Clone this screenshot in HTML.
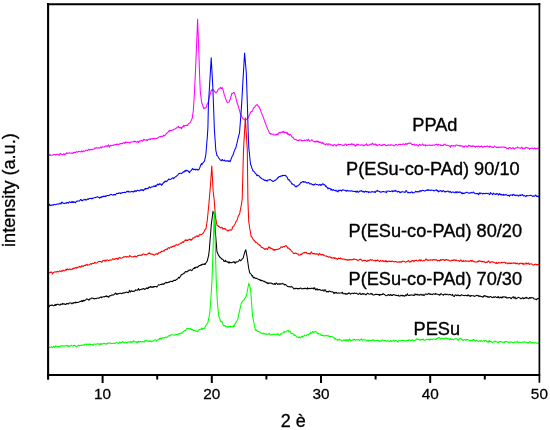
<!DOCTYPE html>
<html><head><meta charset="utf-8"><style>
html,body{margin:0;padding:0;background:#fff;overflow:hidden;}
svg{display:block;}
text{font-family:"Liberation Sans",Arial,sans-serif;fill:#000;}
</style></head><body>
<svg width="550" height="430" viewBox="0 0 550 430">
<rect width="550" height="430" fill="#fff"/>
<polyline fill="none" stroke="#ff00ff" stroke-width="1.05" stroke-linejoin="round" points="48.0,155.4 48.5,155.6 49.0,155.3 49.5,154.6 50.0,155.4 50.5,155.2 51.0,154.9 51.5,155.1 52.0,155.2 52.5,155.1 53.0,155.0 53.5,154.9 54.0,154.4 54.5,154.5 55.0,154.5 55.5,154.9 56.0,154.7 56.5,154.5 57.0,154.2 57.5,154.3 58.0,154.6 58.5,154.7 59.0,155.2 59.5,154.9 60.0,153.3 60.5,153.5 61.0,154.2 61.5,154.3 62.0,154.5 62.5,154.5 63.0,154.9 63.5,153.7 64.0,153.8 64.5,154.7 65.0,154.4 65.5,154.0 66.0,153.4 66.5,152.8 67.0,153.5 67.5,153.4 68.0,152.9 68.5,153.0 69.0,153.3 69.5,152.8 70.0,153.0 70.5,153.2 71.0,153.1 71.5,152.9 72.0,153.3 72.5,153.4 73.0,152.9 73.5,152.4 73.6,152.9 74.0,152.5 74.5,152.7 75.0,152.1 75.5,152.6 76.0,152.2 76.5,151.6 77.0,151.9 77.5,152.2 78.0,152.0 78.5,151.5 79.0,151.3 79.5,151.7 80.0,151.6 80.5,151.9 81.0,151.8 81.5,150.9 82.0,151.5 82.5,151.9 83.0,151.1 83.5,150.9 84.0,151.3 84.5,151.3 85.0,151.1 85.5,150.5 86.0,150.0 86.5,150.2 87.0,150.2 87.5,150.6 88.0,150.2 88.5,149.3 89.0,149.4 89.5,150.2 90.0,150.0 90.5,149.3 91.0,149.4 91.5,149.6 92.0,149.6 92.5,149.6 93.0,149.2 93.5,149.0 94.0,148.9 94.5,148.9 95.0,147.8 95.5,148.3 96.0,148.2 96.5,147.7 97.0,148.1 97.5,147.9 98.0,148.1 98.5,147.8 99.0,148.1 99.5,148.3 100.0,147.8 100.5,147.1 101.0,146.9 101.5,147.9 102.0,147.1 102.5,146.8 103.0,146.9 103.5,146.9 104.0,147.0 104.5,146.6 105.0,146.3 105.5,145.9 106.0,146.3 106.5,145.9 107.0,146.3 107.5,146.6 108.0,145.3 108.5,144.9 109.0,146.3 109.5,147.1 110.0,145.7 110.5,145.3 111.0,146.0 111.5,145.4 112.0,145.3 112.5,145.3 113.0,145.6 113.5,145.1 114.0,145.1 114.5,144.8 115.0,144.6 115.5,144.7 116.0,144.4 116.5,144.6 117.0,143.9 117.5,143.9 118.0,144.8 118.5,144.4 119.0,144.2 119.5,144.2 120.0,143.6 120.5,143.6 121.0,143.7 121.5,143.7 122.0,143.2 122.5,143.8 123.0,143.2 123.5,142.7 124.0,142.6 124.5,142.9 124.8,143.6 125.0,142.6 125.5,142.6 126.0,141.9 126.5,142.4 127.0,142.7 127.5,142.3 128.0,142.2 128.5,142.5 129.0,142.6 129.5,142.7 130.0,143.0 130.5,142.2 131.0,141.8 131.5,142.0 132.0,141.9 132.5,141.9 133.0,141.8 133.5,141.8 134.0,141.1 134.5,141.9 135.0,141.4 135.5,141.2 136.0,141.9 136.5,142.3 137.0,142.0 137.5,141.6 138.0,141.2 138.5,142.5 139.0,141.8 139.5,140.9 140.0,140.9 140.5,141.0 141.0,140.4 141.5,140.7 142.0,140.6 142.5,141.2 143.0,140.9 143.5,139.4 144.0,139.9 144.5,139.5 145.0,140.3 145.5,140.2 146.0,140.1 146.5,139.7 147.0,140.7 147.5,140.6 148.0,139.4 148.5,139.5 149.0,139.1 149.5,139.1 150.0,138.8 150.5,139.6 151.0,138.7 151.5,138.8 152.0,139.0 152.5,138.6 153.0,138.6 153.5,138.6 154.0,138.8 154.5,138.4 155.0,138.7 155.5,138.7 156.0,138.4 156.5,138.4 157.0,138.2 157.5,138.3 158.0,137.7 158.5,137.5 159.0,137.0 159.5,136.8 160.0,136.6 160.5,137.0 161.0,136.4 161.5,136.3 162.0,136.8 162.5,136.6 163.0,135.9 163.5,135.2 164.0,135.9 164.5,135.7 165.0,135.0 165.5,135.1 166.0,134.1 166.5,133.3 167.0,133.2 167.5,132.6 168.0,132.1 168.5,131.2 169.0,131.8 169.2,130.7 169.5,130.2 170.0,130.8 170.5,130.5 171.0,130.6 171.5,130.4 172.0,130.2 172.5,130.0 173.0,129.6 173.4,130.0 173.5,129.6 174.0,129.2 174.5,129.2 175.0,129.1 175.5,128.5 176.0,128.2 176.5,128.2 177.0,127.2 177.5,127.0 178.0,127.1 178.5,126.4 178.6,126.9 179.0,127.3 179.5,127.9 180.0,127.5 180.5,127.7 180.7,128.0 181.0,127.4 181.5,128.8 182.0,127.3 182.5,126.7 183.0,126.9 183.5,126.1 183.8,125.3 184.0,126.1 184.5,126.1 185.0,125.5 185.5,125.5 186.0,125.6 186.5,125.2 187.0,125.6 187.5,125.4 188.0,124.5 188.5,123.8 189.0,123.5 189.5,123.0 190.0,122.9 190.1,122.6 190.5,122.0 191.0,120.9 191.5,119.8 192.0,118.6 192.2,118.6 192.5,116.4 193.0,112.9 193.3,110.7 193.5,107.6 194.0,99.7 194.3,95.0 194.5,91.0 195.0,81.0 195.3,75.0 195.5,70.4 196.0,58.8 196.5,47.3 196.6,45.0 197.0,34.7 197.5,21.9 197.6,19.3 198.0,29.6 198.5,42.4 198.6,45.0 199.0,57.0 199.5,72.0 199.6,75.0 200.0,84.5 200.3,91.7 200.5,93.3 201.0,97.3 201.5,101.3 201.7,102.9 202.0,103.3 202.5,104.7 203.0,106.1 203.5,107.8 203.8,108.7 204.0,108.4 204.5,108.3 205.0,107.6 205.5,108.0 205.9,107.6 206.0,107.8 206.5,106.8 207.0,104.4 207.5,103.7 208.0,102.6 208.5,100.8 209.0,98.6 209.5,96.7 210.0,94.9 210.1,94.6 210.5,93.2 211.0,91.3 211.5,89.8 212.0,90.4 212.5,90.1 213.0,89.5 213.5,90.4 213.6,90.6 214.0,91.0 214.5,91.2 215.0,92.0 215.5,92.0 216.0,93.1 216.5,92.0 217.0,91.8 217.5,91.1 218.0,89.7 218.5,88.9 219.0,89.0 219.5,89.0 220.0,88.3 220.5,87.2 220.6,87.8 221.0,88.2 221.5,88.7 222.0,87.5 222.4,88.1 222.5,88.7 223.0,89.8 223.5,91.6 224.0,93.7 224.5,95.5 224.7,95.8 225.0,96.8 225.5,98.1 226.0,99.7 226.5,100.6 227.0,102.0 227.5,102.7 228.0,102.4 228.5,102.1 229.0,102.0 229.5,101.2 229.6,100.6 230.0,99.8 230.5,98.3 231.0,96.5 231.5,94.7 231.7,94.0 232.0,93.2 232.5,93.5 233.0,93.1 233.5,92.5 233.8,92.7 234.0,92.4 234.5,93.4 235.0,94.6 235.2,95.4 235.5,96.1 236.0,98.5 236.5,100.7 237.0,102.5 237.3,103.8 237.5,103.8 238.0,105.1 238.5,107.4 239.0,108.8 239.5,110.5 240.0,112.1 240.1,113.0 240.5,114.1 241.0,114.6 241.5,116.0 242.0,117.0 242.5,117.9 242.8,118.4 243.0,118.4 243.5,119.0 244.0,119.2 244.5,119.2 245.0,119.9 245.5,119.9 245.6,120.1 246.0,119.9 246.5,119.6 247.0,118.7 247.5,118.7 248.0,117.7 248.4,116.9 248.5,116.5 249.0,115.9 249.5,114.9 250.0,113.5 250.5,112.6 251.0,111.9 251.5,111.2 251.9,111.3 252.0,111.5 252.5,110.5 253.0,109.4 253.5,108.2 254.0,107.5 254.5,107.4 254.6,107.6 255.0,106.8 255.5,105.8 256.0,105.4 256.5,105.0 257.0,104.6 257.5,105.2 258.0,105.9 258.5,106.8 259.0,106.7 259.5,107.5 260.0,109.1 260.5,110.0 261.0,111.7 261.5,112.9 262.0,113.9 262.3,114.9 262.5,115.4 263.0,116.6 263.5,117.9 264.0,119.4 264.5,120.9 265.0,121.9 265.5,123.5 265.8,123.9 266.0,124.9 266.5,126.4 267.0,127.4 267.5,128.6 268.0,129.8 268.5,130.6 269.0,131.8 269.3,132.8 269.5,133.2 270.0,133.4 270.5,134.1 271.0,133.5 271.5,134.1 272.0,134.4 272.5,134.1 272.8,133.9 273.0,133.9 273.5,134.6 274.0,135.1 274.5,135.0 275.0,135.0 275.5,134.8 276.0,135.0 276.3,134.3 276.5,134.8 277.0,134.5 277.5,133.9 278.0,134.7 278.5,133.2 279.0,132.7 279.5,132.6 280.0,133.1 280.4,132.2 280.5,132.7 281.0,132.7 281.5,132.4 282.0,131.7 282.5,131.8 283.0,132.5 283.5,131.5 283.9,131.3 284.0,131.9 284.5,132.6 285.0,132.6 285.5,132.6 286.0,132.2 286.5,133.3 287.0,133.2 287.4,132.6 287.5,133.9 288.0,134.5 288.5,133.7 289.0,134.4 289.5,135.2 290.0,134.5 290.5,134.5 291.0,135.2 291.5,136.0 291.6,136.4 292.0,137.1 292.5,137.2 293.0,137.0 293.5,138.2 294.0,139.1 294.5,139.2 295.0,139.4 295.5,139.4 295.8,139.7 296.0,139.2 296.5,139.9 297.0,140.2 297.5,140.6 298.0,140.5 298.5,140.0 298.8,140.5 299.0,140.8 299.5,139.8 300.0,140.0 300.5,139.9 301.0,139.7 301.5,140.7 302.0,141.1 302.5,140.8 303.0,140.5 303.5,140.4 304.0,140.4 304.5,140.0 305.0,140.5 305.5,140.6 306.0,140.4 306.5,139.8 307.0,139.9 307.2,140.0 307.5,140.7 308.0,140.2 308.5,139.3 309.0,140.2 309.5,141.2 310.0,140.9 310.5,140.9 311.0,140.6 311.5,139.8 312.0,139.8 312.5,140.2 313.0,141.0 313.5,141.4 314.0,141.7 314.5,141.6 314.7,141.9 315.0,141.4 315.5,141.5 316.0,142.1 316.5,141.4 317.0,140.9 317.5,141.7 318.0,142.1 318.5,141.2 319.0,142.2 319.5,142.5 320.0,142.1 320.5,142.1 321.0,142.7 321.5,142.8 322.0,143.6 322.1,143.2 322.5,142.5 323.0,142.9 323.5,143.6 324.0,144.3 324.5,143.9 325.0,144.1 325.5,144.8 326.0,144.3 326.5,144.1 327.0,143.7 327.5,144.2 328.0,145.1 328.5,143.9 329.0,144.2 329.5,143.8 330.0,144.4 330.5,144.9 331.0,144.6 331.5,145.0 332.0,145.1 332.5,145.3 333.0,145.9 333.3,145.6 333.5,145.1 334.0,144.7 334.5,144.5 335.0,144.9 335.5,144.9 336.0,146.1 336.5,145.8 337.0,144.8 337.5,144.8 338.0,145.2 338.5,144.0 339.0,144.5 339.5,145.0 340.0,144.4 340.5,144.4 341.0,144.7 341.5,145.1 342.0,145.0 342.5,145.2 343.0,145.3 343.5,145.3 344.0,145.6 344.5,145.0 345.0,144.3 345.5,144.1 346.0,144.2 346.3,144.8 346.5,145.4 347.0,145.2 347.5,144.7 348.0,144.3 348.5,144.4 349.0,144.5 349.5,144.4 350.0,144.1 350.5,144.5 351.0,144.8 351.5,143.7 352.0,144.2 352.5,144.0 353.0,144.7 353.5,144.5 354.0,144.1 354.5,145.2 355.0,146.1 355.5,145.6 356.0,145.8 356.5,145.0 357.0,144.1 357.5,145.0 358.0,144.6 358.5,144.2 359.0,145.0 359.5,145.0 360.0,144.9 360.5,145.3 361.0,144.9 361.5,145.2 362.0,144.8 362.5,145.2 363.0,144.9 363.5,145.8 364.0,145.5 364.5,145.5 365.0,144.7 365.5,144.8 366.0,145.1 366.5,143.8 367.0,144.5 367.5,145.4 368.0,145.3 368.5,145.3 369.0,144.9 369.5,145.1 370.0,144.5 370.5,144.2 371.0,144.0 371.5,144.3 371.8,144.5 372.0,144.2 372.5,143.1 373.0,143.7 373.5,144.4 374.0,144.8 374.5,144.4 375.0,144.1 375.5,143.9 376.0,145.2 376.5,144.6 377.0,145.6 377.5,145.7 378.0,145.1 378.5,144.7 379.0,144.8 379.5,144.4 380.0,144.9 380.5,145.0 381.0,145.3 381.5,145.6 382.0,145.7 382.5,144.9 383.0,145.3 383.5,144.6 384.0,144.5 384.5,144.5 385.0,144.7 385.5,145.4 386.0,145.6 386.5,145.8 387.0,145.4 387.5,145.2 388.0,145.0 388.5,144.8 389.0,145.3 389.5,145.2 390.0,144.9 390.5,145.2 391.0,144.6 391.5,145.0 392.0,145.0 392.5,144.9 393.0,144.9 393.5,145.8 394.0,145.8 394.5,145.8 395.0,145.3 395.5,144.5 396.0,144.6 396.5,144.5 397.0,145.1 397.5,145.4 398.0,145.1 398.5,144.6 399.0,144.5 399.5,144.6 400.0,144.1 400.5,144.7 401.0,144.7 401.5,144.4 402.0,144.3 402.5,144.4 403.0,143.9 403.5,143.9 404.0,144.5 404.5,144.4 405.0,144.7 405.5,143.7 406.0,143.4 406.5,144.3 407.0,144.4 407.5,143.6 408.0,143.3 408.5,143.5 409.0,143.0 409.5,143.3 410.0,142.9 410.5,143.4 411.0,143.3 411.5,144.1 412.0,144.8 412.5,144.4 413.0,144.8 413.5,144.3 414.0,144.3 414.5,144.3 415.0,145.1 415.5,145.0 416.0,145.4 416.5,144.6 417.0,144.9 417.5,145.2 418.0,145.9 418.5,146.0 419.0,144.9 419.5,144.5 420.0,144.5 420.5,145.6 421.0,145.2 421.5,144.9 422.0,144.8 422.5,143.9 423.0,144.2 423.5,145.4 424.0,145.4 424.5,145.1 425.0,144.8 425.4,145.6 425.5,146.0 426.0,145.0 426.5,145.2 427.0,145.2 427.5,145.4 428.0,145.3 428.5,145.2 429.0,145.0 429.5,145.2 430.0,145.0 430.5,145.2 431.0,145.4 431.5,145.5 432.0,145.1 432.5,145.1 433.0,145.5 433.5,145.0 434.0,145.0 434.5,145.3 435.0,145.0 435.5,144.8 436.0,144.6 436.5,144.1 437.0,144.7 437.5,145.2 438.0,145.0 438.2,144.2 438.5,144.8 439.0,144.6 439.5,144.9 440.0,145.1 440.5,144.7 441.0,145.7 441.5,145.3 442.0,145.4 442.5,145.5 443.0,145.7 443.5,145.3 444.0,144.3 444.5,144.5 445.0,144.0 445.5,144.5 446.0,145.3 446.5,145.7 447.0,145.6 447.5,145.1 448.0,145.4 448.5,145.4 449.0,146.0 449.5,146.2 450.0,145.9 450.5,147.2 451.0,145.8 451.5,145.4 452.0,145.8 452.5,146.0 453.0,145.9 453.5,145.5 454.0,146.1 454.5,145.8 455.0,146.2 455.5,146.0 456.0,145.0 456.5,144.9 457.0,145.0 457.5,145.5 458.0,145.5 458.5,145.6 459.0,145.3 459.5,145.8 460.0,146.3 460.5,145.4 461.0,145.7 461.5,146.0 462.0,145.9 462.5,146.0 463.0,146.9 463.5,146.8 463.6,146.4 464.0,146.0 464.5,146.9 465.0,146.3 465.5,145.8 466.0,145.9 466.5,146.2 467.0,147.1 467.5,146.4 468.0,146.1 468.5,145.3 469.0,146.1 469.5,145.7 470.0,145.6 470.5,146.1 471.0,145.8 471.5,146.6 472.0,146.7 472.5,145.7 473.0,146.1 473.5,145.8 474.0,146.4 474.5,146.7 475.0,146.2 475.5,147.2 476.0,146.5 476.5,146.0 477.0,146.5 477.5,146.7 478.0,146.0 478.5,146.4 479.0,146.2 479.5,147.0 480.0,146.8 480.5,146.4 481.0,146.8 481.5,146.0 482.0,146.5 482.5,147.3 483.0,146.7 483.5,147.1 484.0,146.7 484.5,146.3 485.0,146.5 485.5,146.7 486.0,146.5 486.5,146.1 487.0,146.2 487.5,146.1 488.0,146.8 488.5,147.0 489.0,147.0 489.1,146.0 489.5,146.9 490.0,146.7 490.5,146.2 491.0,146.7 491.5,147.2 492.0,147.1 492.5,147.3 493.0,147.5 493.5,147.5 494.0,146.8 494.5,146.0 495.0,146.5 495.5,147.0 496.0,146.9 496.5,147.4 497.0,147.5 497.5,147.3 498.0,147.8 498.5,147.0 499.0,147.5 499.5,147.1 500.0,147.1 500.5,147.4 501.0,147.1 501.5,147.3 502.0,146.9 502.5,147.0 503.0,146.9 503.5,147.2 504.0,147.1 504.5,147.1 505.0,147.6 505.5,147.2 506.0,147.5 506.5,148.3 507.0,148.6 507.5,148.5 508.0,148.4 508.5,148.9 509.0,147.6 509.5,147.5 510.0,147.5 510.5,148.1 511.0,148.1 511.5,148.5 512.0,148.5 512.5,147.9 513.0,147.6 513.5,147.7 514.0,149.0 514.5,148.9 515.0,148.5 515.5,148.1 516.0,147.9 516.5,147.9 517.0,147.7 517.5,147.0 518.0,147.7 518.5,147.8 519.0,148.1 519.5,148.0 520.0,148.3 520.5,148.2 521.0,148.1 521.5,147.0 522.0,147.6 522.5,148.8 523.0,148.0 523.5,148.3 524.0,148.7 524.5,148.2 525.0,148.6 525.5,147.8 526.0,147.3 526.5,147.4 527.0,147.5 527.5,148.1 528.0,148.1 528.5,148.3 529.0,148.1 529.5,149.2 530.0,148.5 530.5,148.4 531.0,148.5 531.5,148.2 532.0,147.9 532.5,148.3 533.0,148.6 533.5,148.6 534.0,148.6 534.5,147.9 535.0,147.9 535.5,148.9 536.0,148.3 536.5,148.6 537.0,148.9 537.5,149.0 538.0,148.0 538.5,148.2 539.0,148.3"/>
<polyline fill="none" stroke="#0000ff" stroke-width="1.05" stroke-linejoin="round" points="48.0,205.3 48.5,204.9 49.0,204.7 49.5,204.2 50.0,205.8 50.5,205.6 51.0,205.0 51.5,205.4 52.0,205.1 52.5,204.9 53.0,205.3 53.5,204.8 54.0,204.5 54.5,204.3 55.0,204.7 55.5,204.7 56.0,204.7 56.5,204.2 57.0,204.2 57.5,203.8 58.0,204.2 58.5,204.0 59.0,204.0 59.5,203.8 60.0,203.1 60.5,203.7 61.0,204.0 61.5,202.5 62.0,202.1 62.5,202.5 63.0,203.3 63.5,203.3 64.0,203.6 64.5,203.5 65.0,203.2 65.5,203.1 66.0,203.1 66.5,203.2 67.0,202.4 67.5,202.5 68.0,202.8 68.5,203.2 69.0,202.1 69.5,201.8 70.0,202.0 70.5,202.5 71.0,202.2 71.5,202.4 72.0,201.5 72.5,202.5 73.0,202.4 73.5,201.6 73.6,202.0 74.0,202.4 74.5,202.0 75.0,202.3 75.5,202.8 76.0,201.9 76.5,201.3 77.0,201.1 77.5,201.3 78.0,201.1 78.5,201.0 79.0,201.0 79.5,201.1 80.0,200.2 80.5,199.5 81.0,199.4 81.5,200.6 82.0,200.5 82.5,200.7 83.0,200.0 83.5,199.7 84.0,200.0 84.5,199.7 85.0,199.2 85.5,199.4 86.0,200.3 86.5,199.8 87.0,199.6 87.5,199.1 88.0,198.8 88.5,199.4 89.0,198.8 89.5,198.4 90.0,198.4 90.5,198.3 91.0,198.6 91.5,198.8 92.0,198.2 92.5,198.8 93.0,198.0 93.5,198.1 94.0,197.7 94.5,197.8 95.0,197.8 95.5,197.5 96.0,197.2 96.5,197.2 97.0,196.9 97.5,196.6 98.0,197.0 98.5,197.3 99.0,197.6 99.2,197.6 99.5,198.3 100.0,197.4 100.5,197.1 101.0,197.7 101.5,196.7 102.0,197.1 102.5,196.6 103.0,196.6 103.5,196.1 104.0,196.7 104.5,196.3 105.0,195.9 105.5,196.6 106.0,196.4 106.5,195.8 107.0,195.4 107.5,195.5 108.0,195.4 108.5,195.7 109.0,195.6 109.5,194.9 110.0,194.8 110.5,194.7 111.0,194.3 111.5,194.6 112.0,194.8 112.5,195.2 113.0,195.2 113.5,194.5 114.0,194.6 114.5,194.5 115.0,195.3 115.5,194.5 116.0,194.2 116.5,193.5 117.0,193.3 117.5,193.6 118.0,193.4 118.5,193.4 119.0,192.7 119.5,193.1 120.0,192.9 120.5,193.6 121.0,193.2 121.5,193.3 122.0,192.5 122.5,192.7 123.0,192.4 123.5,192.4 124.0,192.6 124.5,192.3 124.8,192.5 125.0,192.7 125.5,192.6 126.0,192.2 126.5,191.6 127.0,191.6 127.5,191.7 128.0,191.0 128.5,192.0 129.0,191.7 129.5,191.7 130.0,192.1 130.5,192.0 131.0,191.6 131.5,191.3 132.0,191.7 132.5,191.7 133.0,191.4 133.5,192.0 134.0,191.7 134.5,190.7 135.0,191.1 135.5,190.8 136.0,191.6 136.5,191.3 137.0,190.5 137.5,190.2 138.0,190.5 138.5,190.5 139.0,191.0 139.5,190.8 140.0,190.3 140.5,190.3 141.0,189.4 141.5,190.0 142.0,190.4 142.5,189.9 142.7,189.7 143.0,190.3 143.5,190.6 144.0,189.8 144.5,189.0 145.0,189.5 145.5,188.4 146.0,188.9 146.5,188.5 147.0,188.8 147.5,188.3 148.0,188.7 148.5,188.1 149.0,187.1 149.5,186.8 150.0,187.4 150.5,187.9 151.0,187.5 151.5,187.0 152.0,186.8 152.5,187.0 153.0,186.7 153.5,186.4 154.0,185.9 154.5,186.5 155.0,186.4 155.5,185.4 156.0,186.4 156.5,185.7 157.0,184.8 157.5,184.1 158.0,184.8 158.5,184.9 159.0,184.1 159.5,183.7 160.0,184.5 160.5,183.9 161.0,184.1 161.5,185.2 162.0,185.0 162.5,184.1 163.0,183.3 163.5,183.2 163.9,182.0 164.0,182.6 164.5,182.1 165.0,181.4 165.5,181.0 166.0,181.7 166.5,181.3 167.0,181.0 167.5,180.9 168.0,180.0 168.5,179.4 169.0,178.9 169.5,179.3 170.0,179.7 170.5,179.3 171.0,179.3 171.5,178.4 172.0,178.3 172.5,178.0 173.0,177.8 173.5,178.8 174.0,178.3 174.5,177.4 175.0,177.1 175.1,177.2 175.5,176.7 176.0,176.8 176.5,176.0 177.0,175.7 177.5,175.2 178.0,174.8 178.5,174.1 179.0,173.5 179.5,173.5 180.0,173.3 180.5,173.2 181.0,173.3 181.5,173.7 182.0,173.2 182.5,172.5 183.0,172.3 183.5,171.6 184.0,172.1 184.5,171.5 184.9,170.6 185.0,171.3 185.5,171.2 186.0,170.1 186.5,170.8 187.0,171.0 187.5,170.6 188.0,170.8 188.5,171.2 189.0,172.0 189.1,172.3 189.5,172.8 190.0,171.4 190.5,171.2 191.0,170.7 191.5,170.2 192.0,169.4 192.5,168.6 193.0,168.7 193.2,169.3 193.5,169.8 194.0,169.6 194.5,169.5 195.0,169.1 195.5,170.0 196.0,169.9 196.5,169.3 197.0,169.3 197.5,169.3 198.0,170.1 198.5,169.9 198.8,169.6 199.0,169.4 199.5,168.4 200.0,167.1 200.5,165.7 201.0,164.5 201.5,163.6 201.6,164.4 202.0,164.7 202.5,162.9 203.0,162.9 203.5,162.6 204.0,161.6 204.4,161.4 204.5,160.9 205.0,158.8 205.5,156.4 205.8,155.1 206.0,152.7 206.5,146.8 207.0,140.8 207.2,138.4 207.5,133.9 207.9,128.0 208.0,123.4 208.4,105.0 208.5,103.3 209.0,95.1 209.5,86.8 210.0,78.3 210.5,69.7 211.0,61.2 211.2,57.8 211.5,63.2 212.0,72.3 212.5,81.4 212.8,86.8 213.0,92.0 213.5,105.0 214.0,118.9 214.4,130.0 214.5,131.4 215.0,138.6 215.5,145.7 215.8,150.0 216.0,151.1 216.5,153.3 217.0,155.6 217.5,155.7 218.0,156.8 218.5,157.5 219.0,158.4 219.5,158.7 220.0,159.6 220.5,160.3 221.0,160.2 221.5,160.7 222.0,159.8 222.5,159.6 223.0,160.6 223.5,160.7 224.0,160.7 224.5,160.0 225.0,160.7 225.5,160.9 225.9,161.3 226.0,160.9 226.5,161.0 227.0,160.5 227.5,160.9 228.0,161.1 228.5,161.5 229.0,160.7 229.5,161.0 230.0,161.7 230.5,160.9 231.0,159.3 231.5,158.0 232.0,156.6 232.5,155.8 232.8,155.3 233.0,155.2 233.5,153.5 234.0,151.8 234.5,150.6 235.0,149.3 235.5,148.1 235.8,148.2 236.0,147.3 236.5,144.9 237.0,143.2 237.5,140.9 238.0,138.5 238.2,138.0 238.5,136.7 239.0,134.6 239.5,133.0 240.0,126.5 240.5,120.0 241.0,113.2 241.5,106.4 241.6,105.0 242.0,97.8 242.5,88.9 243.0,79.9 243.5,71.5 244.0,63.1 244.5,54.7 244.6,53.0 245.0,57.7 245.5,63.5 246.0,69.4 246.3,72.9 246.5,78.7 247.0,93.3 247.4,105.0 247.5,108.6 248.0,126.4 248.1,130.0 248.5,140.2 248.8,147.9 249.0,149.8 249.5,154.5 250.0,159.2 250.4,163.0 250.5,163.8 251.0,165.3 251.5,166.5 252.0,168.6 252.5,169.3 253.0,171.2 253.5,171.1 254.0,171.4 254.4,171.6 254.5,172.0 255.0,173.0 255.5,173.3 256.0,173.8 256.2,174.3 256.5,174.9 257.0,175.7 257.5,175.0 258.0,175.6 258.5,175.8 259.0,175.8 259.5,176.4 260.0,177.0 260.1,177.7 260.5,177.6 261.0,177.8 261.5,178.6 262.0,178.8 262.5,178.9 263.0,179.3 263.5,179.2 264.0,180.0 264.5,180.4 265.0,180.2 265.5,180.0 266.0,180.8 266.5,180.6 267.0,181.3 267.5,180.1 268.0,180.2 268.5,179.9 269.0,179.9 269.5,180.0 270.0,179.3 270.5,179.7 271.0,180.1 271.5,180.5 272.0,180.8 272.5,181.3 273.0,181.5 273.5,181.5 273.7,181.3 274.0,180.8 274.5,180.4 275.0,180.2 275.5,180.3 276.0,179.7 276.5,179.0 277.0,179.1 277.5,178.1 278.0,177.6 278.4,177.5 278.5,177.6 279.0,176.4 279.5,176.4 280.0,176.8 280.5,176.4 281.0,175.8 281.5,176.0 282.0,176.2 282.5,175.4 283.0,175.5 283.5,175.5 284.0,175.3 284.5,175.6 285.0,175.4 285.5,175.4 285.8,175.3 286.0,176.3 286.5,176.7 287.0,177.1 287.5,177.9 288.0,179.6 288.5,179.9 288.6,179.6 289.0,179.7 289.5,179.9 290.0,181.3 290.5,181.8 291.0,182.0 291.5,183.5 292.0,184.1 292.3,183.7 292.5,183.8 293.0,184.3 293.5,184.8 294.0,185.0 294.5,184.9 295.0,186.2 295.5,186.3 296.0,186.9 296.5,186.7 297.0,185.8 297.5,185.9 298.0,185.8 298.5,185.4 299.0,184.8 299.5,184.3 299.8,184.3 300.0,183.7 300.5,183.2 301.0,182.4 301.5,182.6 302.0,182.0 302.5,181.7 303.0,181.6 303.5,181.6 304.0,182.4 304.5,182.1 305.0,181.6 305.5,182.2 306.0,182.3 306.5,182.9 307.0,182.8 307.2,182.8 307.5,182.9 308.0,182.8 308.5,182.5 309.0,182.9 309.5,183.6 310.0,184.1 310.5,183.7 311.0,183.6 311.5,184.1 312.0,184.3 312.5,184.8 312.8,184.4 313.0,184.3 313.5,184.9 314.0,185.1 314.5,184.3 315.0,184.3 315.5,183.8 316.0,184.3 316.5,184.4 317.0,184.5 317.5,184.6 318.0,184.9 318.4,185.0 318.5,185.3 319.0,185.1 319.5,184.6 320.0,184.3 320.5,185.2 321.0,185.4 321.5,184.6 322.0,184.6 322.5,183.8 323.0,183.8 323.5,184.4 324.0,184.9 324.5,184.6 325.0,185.1 325.5,186.4 326.0,185.8 326.5,186.9 327.0,187.5 327.5,187.6 327.7,188.1 328.0,189.0 328.5,188.0 329.0,188.2 329.5,188.5 330.0,188.5 330.5,188.9 331.0,190.2 331.4,189.9 331.5,189.1 332.0,189.6 332.5,190.3 333.0,190.2 333.5,189.6 334.0,190.1 334.5,190.5 335.0,190.6 335.5,190.6 336.0,190.0 336.5,191.1 337.0,190.9 337.5,191.6 338.0,191.9 338.5,190.7 339.0,190.1 339.5,190.8 340.0,190.5 340.5,190.2 341.0,190.2 341.5,191.1 342.0,190.4 342.5,189.8 343.0,190.0 343.5,189.9 344.0,190.3 344.5,190.2 345.0,190.2 345.5,190.8 346.0,190.5 346.3,191.1 346.5,191.3 347.0,190.6 347.5,190.3 348.0,190.8 348.5,191.1 349.0,190.8 349.5,190.9 350.0,191.0 350.5,191.0 351.0,191.2 351.5,190.8 352.0,191.0 352.5,191.2 353.0,191.1 353.5,191.4 354.0,191.6 354.5,191.4 355.0,191.2 355.5,191.3 356.0,192.3 356.5,192.0 357.0,191.0 357.5,191.1 358.0,192.3 358.5,192.3 359.0,191.7 359.5,191.6 360.0,190.7 360.5,191.1 361.0,191.3 361.5,190.6 362.0,190.9 362.5,191.8 363.0,191.9 363.5,191.3 364.0,191.8 364.5,192.3 365.0,191.5 365.5,191.1 366.0,191.5 366.5,191.6 367.0,192.1 367.5,191.8 368.0,191.6 368.5,192.6 369.0,191.9 369.5,192.0 370.0,192.2 370.5,192.2 371.0,191.9 371.5,192.1 371.8,191.8 372.0,191.4 372.5,191.8 373.0,191.9 373.5,191.9 374.0,191.9 374.5,191.6 375.0,192.4 375.5,192.4 376.0,191.0 376.5,191.3 377.0,191.0 377.5,190.4 378.0,191.2 378.5,191.2 379.0,191.2 379.5,191.4 380.0,192.0 380.5,192.3 381.0,192.0 381.5,192.1 382.0,191.7 382.5,191.8 383.0,191.5 383.5,191.8 384.0,191.6 384.5,191.9 385.0,191.9 385.5,191.8 386.0,192.2 386.5,192.6 387.0,190.9 387.5,191.3 388.0,191.2 388.5,191.1 389.0,190.9 389.5,191.4 390.0,191.4 390.5,191.4 391.0,191.4 391.5,191.1 392.0,190.5 392.5,191.7 393.0,191.4 393.5,191.0 394.0,191.4 394.5,190.8 395.0,190.4 395.5,191.3 396.0,190.6 396.5,191.1 397.0,191.4 397.2,192.0 397.5,192.0 398.0,191.6 398.5,191.2 399.0,191.4 399.5,192.2 400.0,192.8 400.5,192.2 401.0,191.8 401.5,192.3 402.0,191.8 402.5,191.7 403.0,191.7 403.5,192.0 404.0,192.0 404.5,192.2 405.0,192.4 405.5,191.8 406.0,190.6 406.5,190.8 407.0,191.8 407.5,192.2 408.0,193.0 408.5,192.3 409.0,192.3 409.5,192.8 410.0,192.9 410.5,192.4 411.0,192.5 411.5,191.9 412.0,192.0 412.5,192.9 412.7,192.2 413.0,192.7 413.5,192.8 414.0,192.7 414.5,192.7 415.0,192.3 415.5,191.2 416.0,191.6 416.5,191.8 417.0,192.2 417.5,191.5 418.0,191.4 418.5,191.7 419.0,192.1 419.5,191.0 420.0,190.8 420.5,191.3 421.0,190.5 421.5,191.1 422.0,190.7 422.5,190.3 423.0,190.6 423.5,190.5 424.0,190.7 424.5,190.9 425.0,191.1 425.5,190.6 426.0,190.4 426.5,190.1 427.0,190.3 427.5,190.5 428.0,189.5 428.5,190.3 429.0,190.0 429.5,190.2 430.0,190.2 430.5,190.4 431.0,190.2 431.5,190.0 432.0,190.3 432.5,190.3 433.0,190.2 433.5,190.5 434.0,190.9 434.5,190.8 435.0,190.5 435.5,190.0 436.0,190.2 436.5,189.9 437.0,190.7 437.5,190.4 438.0,191.4 438.5,191.9 439.0,190.8 439.5,191.2 440.0,191.0 440.5,190.6 441.0,190.6 441.5,191.2 442.0,191.8 442.5,191.3 443.0,190.5 443.5,190.7 444.0,191.2 444.5,191.9 445.0,191.6 445.5,191.6 446.0,192.0 446.5,191.4 447.0,191.3 447.5,191.3 448.0,190.9 448.5,191.8 449.0,192.0 449.5,192.1 450.0,191.4 450.5,191.5 450.9,192.4 451.0,192.4 451.5,192.7 452.0,192.0 452.5,192.1 453.0,192.0 453.5,192.4 454.0,192.1 454.5,192.6 455.0,192.9 455.5,192.4 456.0,191.6 456.5,192.6 457.0,192.6 457.5,191.8 458.0,191.9 458.5,192.4 459.0,192.6 459.5,192.0 460.0,191.7 460.5,192.4 461.0,192.7 461.5,193.4 462.0,192.5 462.5,193.7 463.0,193.5 463.5,193.1 464.0,193.5 464.5,193.1 465.0,193.2 465.5,192.7 466.0,192.7 466.5,192.4 467.0,192.1 467.5,192.6 468.0,192.7 468.5,193.1 469.0,193.4 469.5,192.9 470.0,193.0 470.5,192.9 471.0,192.2 471.5,192.8 472.0,192.9 472.5,192.8 473.0,192.3 473.5,192.0 474.0,192.7 474.5,193.2 475.0,193.7 475.5,193.8 476.0,193.8 476.3,193.5 476.5,193.6 477.0,193.3 477.5,193.5 478.0,193.9 478.5,194.6 479.0,193.5 479.5,192.9 480.0,193.9 480.5,193.1 481.0,193.2 481.5,193.2 482.0,193.3 482.5,194.0 483.0,193.7 483.5,193.3 484.0,193.5 484.5,193.5 485.0,193.9 485.5,193.6 486.0,193.3 486.5,193.2 487.0,193.4 487.5,193.7 488.0,193.3 488.5,193.6 489.0,194.0 489.5,194.8 490.0,194.1 490.5,192.5 491.0,193.2 491.5,193.6 492.0,193.9 492.5,194.6 493.0,194.1 493.5,193.1 494.0,193.8 494.5,193.9 495.0,194.2 495.5,194.4 496.0,193.7 496.5,194.2 497.0,193.4 497.5,193.8 498.0,194.3 498.5,195.1 499.0,193.9 499.5,193.5 500.0,194.4 500.5,194.2 501.0,194.9 501.5,194.2 501.8,194.2 502.0,195.1 502.5,194.9 503.0,195.1 503.5,194.4 504.0,195.3 504.5,194.8 505.0,195.1 505.5,194.5 506.0,194.4 506.5,194.8 507.0,195.2 507.5,195.7 508.0,195.3 508.5,195.3 509.0,195.7 509.5,196.3 510.0,195.0 510.5,195.2 511.0,194.9 511.5,195.0 512.0,194.9 512.5,195.6 513.0,194.6 513.5,194.4 514.0,194.9 514.5,194.8 515.0,195.6 515.5,195.7 516.0,195.2 516.5,195.5 517.0,195.0 517.5,195.3 518.0,195.6 518.5,196.3 519.0,195.6 519.5,195.0 520.0,195.1 520.5,195.7 521.0,194.9 521.5,195.1 522.0,195.1 522.5,194.5 523.0,195.2 523.5,196.0 524.0,195.8 524.5,195.5 525.0,196.0 525.5,196.2 526.0,196.7 526.5,195.6 527.0,195.5 527.5,195.7 528.0,195.8 528.5,195.8 529.0,195.7 529.5,195.5 530.0,195.2 530.5,195.3 531.0,195.4 531.5,195.5 532.0,195.8 532.5,196.3 533.0,196.4 533.5,195.8 534.0,196.1 534.5,196.3 535.0,195.9 535.5,195.1 536.0,195.1 536.5,196.3 537.0,196.6 537.5,196.4 538.0,195.9 538.5,196.9 539.0,197.1"/>
<polyline fill="none" stroke="#ff0000" stroke-width="1.05" stroke-linejoin="round" points="48.0,273.9 48.5,272.3 49.0,272.9 49.5,272.7 50.0,272.6 50.5,272.4 51.0,271.8 51.5,272.3 52.0,272.6 52.5,274.0 53.0,273.0 53.5,272.4 54.0,272.2 54.5,272.0 55.0,271.7 55.5,272.0 56.0,272.1 56.5,271.8 57.0,271.9 57.5,271.4 58.0,271.5 58.5,272.0 59.0,271.5 59.5,270.8 60.0,270.9 60.5,271.3 61.0,271.7 61.5,270.9 62.0,270.8 62.5,271.1 63.0,270.3 63.5,270.5 64.0,271.0 64.5,270.8 65.0,270.5 65.5,270.3 66.0,269.1 66.5,270.1 67.0,269.3 67.5,268.9 68.0,269.6 68.5,269.8 69.0,269.3 69.5,268.9 70.0,269.2 70.5,269.2 71.0,269.8 71.5,269.4 72.0,269.1 72.5,269.2 73.0,268.4 73.5,268.0 73.6,268.7 74.0,268.7 74.5,268.2 75.0,267.9 75.5,268.1 76.0,267.2 76.5,268.1 77.0,268.1 77.5,267.2 78.0,267.4 78.5,267.1 79.0,267.3 79.5,266.2 80.0,266.5 80.5,267.1 81.0,267.1 81.5,265.7 82.0,266.1 82.5,266.3 83.0,266.0 83.5,266.5 84.0,265.6 84.5,265.5 85.0,265.1 85.5,265.7 86.0,265.1 86.5,264.5 87.0,264.2 87.5,265.4 88.0,265.0 88.5,264.9 89.0,265.0 89.5,264.6 90.0,264.0 90.5,263.8 91.0,263.9 91.5,264.4 92.0,263.2 92.5,263.3 93.0,263.4 93.5,263.5 94.0,263.5 94.5,262.5 95.0,262.2 95.5,262.8 96.0,263.2 96.5,263.0 97.0,262.7 97.5,262.3 98.0,262.1 98.5,261.8 99.0,261.8 99.2,261.2 99.5,261.4 100.0,261.4 100.5,261.5 101.0,261.5 101.5,262.4 102.0,262.1 102.5,261.5 103.0,260.2 103.5,260.5 104.0,260.7 104.5,260.9 105.0,260.0 105.5,261.1 106.0,260.9 106.5,259.9 107.0,259.9 107.5,259.9 108.0,260.3 108.5,260.5 109.0,260.8 109.5,260.0 110.0,260.0 110.5,259.9 111.0,260.3 111.5,259.9 112.0,259.9 112.5,258.8 113.0,258.9 113.5,258.9 114.0,259.6 114.5,259.3 115.0,258.8 115.5,258.7 116.0,258.9 116.5,258.3 117.0,258.2 117.5,258.8 118.0,259.6 118.5,258.4 119.0,257.8 119.5,257.5 120.0,257.5 120.5,258.2 121.0,258.3 121.5,257.9 122.0,257.9 122.5,257.6 123.0,257.4 123.5,256.7 124.0,256.9 124.5,257.0 124.8,256.7 125.0,256.7 125.5,256.6 126.0,256.7 126.5,257.1 127.0,256.6 127.5,256.6 128.0,256.9 128.5,256.9 129.0,256.9 129.5,255.6 130.0,256.3 130.5,256.1 131.0,256.3 131.5,256.7 132.0,256.9 132.5,256.9 133.0,256.7 133.5,257.0 134.0,256.3 134.5,256.2 135.0,256.4 135.5,256.1 136.0,256.9 136.5,256.7 137.0,256.7 137.5,255.7 138.0,255.4 138.5,255.6 139.0,255.5 139.5,255.1 140.0,255.3 140.5,255.3 141.0,255.6 141.5,254.9 142.0,255.1 142.5,254.5 143.0,254.1 143.5,254.1 144.0,254.0 144.5,254.5 145.0,254.8 145.5,254.4 146.0,254.5 146.5,254.8 147.0,254.4 147.5,254.1 148.0,253.6 148.5,253.1 149.0,253.7 149.5,252.9 150.0,253.6 150.5,253.8 151.0,254.3 151.5,254.0 152.0,253.8 152.5,254.5 153.0,254.4 153.5,254.7 154.0,255.1 154.2,255.1 154.5,255.1 155.0,254.7 155.5,254.5 156.0,253.7 156.5,253.9 157.0,253.6 157.5,254.4 158.0,254.1 158.5,252.8 159.0,253.0 159.5,252.7 160.0,252.3 160.5,252.5 161.0,251.9 161.5,251.2 162.0,251.5 162.5,251.5 163.0,251.2 163.5,250.6 164.0,251.0 164.5,250.7 165.0,249.6 165.5,249.5 166.0,249.4 166.5,249.1 167.0,249.7 167.5,248.8 168.0,247.9 168.5,247.6 169.0,247.9 169.5,248.5 170.0,247.4 170.5,247.1 170.9,247.0 171.0,247.0 171.5,247.5 172.0,246.6 172.5,246.8 173.0,246.4 173.5,246.4 174.0,245.7 174.5,246.4 175.0,245.7 175.5,245.3 176.0,244.7 176.5,244.6 177.0,245.0 177.5,245.1 177.9,245.0 178.0,245.2 178.5,244.7 179.0,244.1 179.5,244.0 180.0,243.6 180.5,243.1 181.0,243.3 181.5,243.3 182.0,242.6 182.5,241.9 183.0,242.1 183.5,242.4 184.0,241.3 184.5,240.8 184.9,240.6 185.0,240.8 185.5,239.7 186.0,240.3 186.5,240.7 187.0,239.9 187.5,240.5 188.0,240.3 188.5,239.7 189.0,239.6 189.5,239.0 190.0,239.4 190.5,240.1 191.0,239.3 191.5,240.1 191.8,239.6 192.0,239.6 192.5,238.7 193.0,237.6 193.5,238.0 194.0,238.0 194.5,237.2 195.0,236.8 195.5,237.1 196.0,236.5 196.5,235.8 197.0,236.1 197.5,236.5 198.0,235.9 198.5,236.2 198.8,236.4 199.0,235.6 199.5,234.7 200.0,234.4 200.5,234.7 201.0,234.9 201.5,234.5 202.0,234.3 202.5,233.7 203.0,233.6 203.5,232.6 204.0,231.7 204.5,230.5 205.0,229.7 205.5,229.4 205.8,229.3 206.0,228.1 206.5,225.1 207.0,222.1 207.2,220.9 207.5,217.9 208.0,213.0 208.5,208.0 208.6,207.0 209.0,202.4 209.5,196.6 210.0,190.8 210.5,185.0 211.0,177.7 211.5,170.4 211.8,166.0 212.0,169.7 212.5,179.0 213.0,188.3 213.2,192.0 213.5,194.4 214.0,198.4 214.2,200.0 214.5,204.1 215.0,210.9 215.4,216.3 215.5,216.8 216.0,219.7 216.5,222.5 217.0,225.3 217.5,225.6 218.0,225.6 218.5,226.5 219.0,226.4 219.5,226.9 220.0,227.4 220.5,228.0 221.0,227.7 221.5,227.8 222.0,227.2 222.5,228.0 223.0,229.2 223.5,228.5 224.0,228.6 224.5,228.5 225.0,229.3 225.1,229.2 225.5,228.9 226.0,229.7 226.5,230.0 227.0,230.2 227.5,230.2 228.0,231.1 228.4,230.9 228.5,230.5 229.0,230.1 229.5,230.0 230.0,230.3 230.5,229.8 231.0,230.0 231.5,229.7 231.6,230.1 232.0,229.2 232.5,227.8 233.0,226.3 233.5,226.3 234.0,225.8 234.5,224.8 235.0,224.0 235.5,222.8 236.0,221.7 236.5,220.9 237.0,220.4 237.5,218.9 238.0,217.2 238.5,215.7 239.0,214.9 239.5,214.3 239.8,213.0 240.0,211.9 240.5,209.4 241.0,206.8 241.3,205.0 241.5,203.6 242.0,200.3 242.2,198.9 242.5,187.6 243.0,168.8 243.5,150.0 244.0,141.1 244.5,132.2 245.0,123.3 245.3,117.9 245.5,121.1 246.0,129.1 246.5,137.2 247.0,145.2 247.3,150.0 247.5,166.7 247.9,200.0 248.0,202.6 248.5,215.9 248.7,221.2 249.0,223.2 249.5,226.6 250.0,230.0 250.5,232.7 251.0,235.4 251.2,236.6 251.5,236.5 252.0,237.3 252.5,238.4 253.0,239.3 253.5,239.5 254.0,240.6 254.5,240.5 255.0,241.7 255.3,241.5 255.5,241.7 256.0,242.7 256.5,242.8 257.0,242.8 257.5,243.4 258.0,244.1 258.5,244.3 259.0,244.6 259.5,245.4 260.0,245.2 260.1,245.3 260.5,245.8 261.0,246.9 261.5,247.3 262.0,247.6 262.5,247.5 263.0,247.8 263.5,248.4 264.0,248.5 264.5,249.2 265.0,249.5 265.5,248.7 266.0,248.6 266.5,248.7 267.0,249.4 267.5,249.5 268.0,248.3 268.5,247.7 269.0,246.7 269.2,247.5 269.5,247.7 270.0,247.6 270.5,248.4 271.0,248.0 271.5,248.5 272.0,248.8 272.5,248.8 273.0,249.9 273.5,250.1 274.0,249.4 274.5,249.6 274.8,250.5 275.0,250.2 275.5,249.5 276.0,249.6 276.5,249.5 277.0,249.3 277.5,249.4 278.0,249.1 278.5,249.3 279.0,249.0 279.5,248.4 280.0,248.3 280.2,248.2 280.5,247.7 281.0,246.8 281.5,247.2 282.0,247.1 282.5,247.4 283.0,246.7 283.5,246.7 284.0,246.5 284.5,246.9 285.0,246.2 285.5,245.8 286.0,245.6 286.1,245.5 286.5,246.2 287.0,246.7 287.5,247.4 288.0,248.4 288.5,248.0 289.0,248.4 289.5,249.0 290.0,249.8 290.4,249.4 290.5,249.6 291.0,250.5 291.5,251.3 292.0,251.6 292.5,251.9 293.0,252.2 293.1,253.0 293.5,253.5 294.0,253.4 294.5,253.3 295.0,253.4 295.5,253.0 296.0,253.2 296.5,253.4 297.0,253.9 297.5,253.9 298.0,253.8 298.5,254.9 299.0,255.3 299.5,254.8 299.6,255.0 300.0,255.0 300.5,254.8 301.0,253.9 301.5,254.5 302.0,253.7 302.5,253.8 303.0,253.2 303.5,252.7 304.0,252.6 304.5,252.9 305.0,252.4 305.5,252.5 306.0,252.6 306.5,252.4 307.0,253.6 307.5,253.7 308.0,253.6 308.5,253.8 309.0,253.3 309.5,253.5 310.0,254.3 310.5,253.8 311.0,252.4 311.5,251.8 312.0,252.9 312.5,253.8 313.0,253.5 313.5,253.6 314.0,253.9 314.5,253.4 314.9,253.7 315.0,254.0 315.5,254.1 316.0,254.1 316.5,253.7 317.0,254.0 317.5,253.9 318.0,254.7 318.5,255.2 319.0,254.0 319.5,253.3 320.0,254.0 320.5,254.4 321.0,254.9 321.5,254.9 322.0,254.3 322.5,254.4 323.0,255.1 323.5,254.6 323.6,255.2 324.0,255.1 324.5,255.6 325.0,255.9 325.5,256.1 326.0,256.2 326.5,255.8 327.0,256.4 327.5,256.5 328.0,256.8 328.5,257.3 329.0,256.9 329.5,256.7 330.0,256.8 330.5,257.2 331.0,257.8 331.5,257.4 332.0,258.3 332.5,258.2 333.0,257.8 333.5,257.6 334.0,258.3 334.5,258.4 335.0,257.6 335.5,258.5 336.0,259.0 336.5,258.5 337.0,258.7 337.5,259.5 338.0,259.0 338.5,258.0 339.0,258.4 339.5,258.5 340.0,258.4 340.5,257.9 341.0,258.9 341.5,258.7 342.0,258.8 342.5,259.0 343.0,259.4 343.5,259.0 344.0,258.9 344.5,259.4 345.0,259.7 345.5,259.4 346.0,259.9 346.5,259.8 347.0,259.5 347.5,260.2 348.0,259.6 348.5,260.1 349.0,259.8 349.5,260.0 350.0,259.3 350.5,259.5 351.0,260.1 351.5,259.7 352.0,259.6 352.5,259.6 353.0,259.6 353.5,258.9 354.0,259.0 354.5,259.3 355.0,259.3 355.5,259.4 356.0,259.8 356.5,259.6 357.0,259.7 357.5,260.5 358.0,260.5 358.5,260.3 359.0,259.9 359.5,259.4 360.0,259.1 360.5,259.5 361.0,259.3 361.5,259.9 362.0,260.7 362.5,261.1 363.0,260.9 363.5,260.2 364.0,260.6 364.5,260.3 365.0,260.6 365.5,260.4 366.0,260.9 366.5,261.5 367.0,261.1 367.3,261.3 367.5,260.4 368.0,260.2 368.5,260.8 369.0,260.9 369.5,260.0 370.0,259.9 370.5,259.5 371.0,260.0 371.5,260.4 371.8,260.0 372.0,259.8 372.5,259.7 373.0,260.4 373.5,260.8 374.0,260.8 374.5,260.5 375.0,260.1 375.5,261.1 376.0,260.8 376.5,260.6 377.0,260.7 377.5,259.9 378.0,260.6 378.5,260.8 379.0,261.2 379.5,261.6 380.0,261.2 380.5,260.3 381.0,260.8 381.5,261.2 382.0,261.2 382.5,260.6 383.0,260.5 383.5,261.4 384.0,261.6 384.5,261.3 385.0,260.9 385.5,261.7 386.0,260.4 386.5,261.2 387.0,262.1 387.5,261.4 388.0,261.3 388.5,261.0 389.0,261.7 389.5,261.0 390.0,261.5 390.5,261.5 391.0,261.1 391.5,261.7 392.0,261.0 392.5,261.1 393.0,261.4 393.5,261.4 394.0,261.8 394.5,262.0 395.0,261.6 395.5,261.5 396.0,261.5 396.5,261.9 397.0,262.3 397.5,262.1 398.0,262.3 398.5,262.1 399.0,261.8 399.5,262.3 400.0,261.7 400.5,262.0 401.0,262.4 401.5,261.6 402.0,261.6 402.5,261.1 403.0,261.4 403.5,261.1 404.0,261.4 404.5,261.4 405.0,261.9 405.5,262.3 406.0,261.8 406.5,261.8 407.0,261.6 407.5,261.3 408.0,260.9 408.5,260.6 409.0,261.6 409.5,262.2 410.0,261.7 410.5,261.4 411.0,261.9 411.5,261.0 412.0,260.7 412.5,260.5 413.0,260.5 413.5,260.9 414.0,261.7 414.5,260.9 415.0,260.4 415.5,260.6 416.0,260.7 416.5,260.1 417.0,260.6 417.5,261.0 418.0,260.9 418.5,260.7 419.0,259.9 419.5,259.7 420.0,260.9 420.5,260.9 421.0,259.8 421.5,260.4 422.0,260.7 422.5,260.9 423.0,260.8 423.5,260.5 424.0,260.8 424.5,260.8 425.0,260.5 425.5,259.6 426.0,258.9 426.5,259.6 427.0,259.6 427.5,260.2 428.0,260.5 428.5,260.2 429.0,259.9 429.5,260.0 430.0,260.3 430.5,259.7 431.0,260.1 431.5,260.0 432.0,260.1 432.5,260.4 433.0,259.6 433.1,260.0 433.5,259.5 434.0,259.5 434.5,259.7 435.0,260.2 435.5,259.8 436.0,259.9 436.5,259.6 437.0,260.5 437.5,261.0 438.0,260.3 438.5,260.6 439.0,260.5 439.5,260.9 440.0,260.2 440.5,259.6 441.0,260.5 441.5,260.1 442.0,259.6 442.5,259.7 443.0,259.4 443.5,259.9 444.0,259.8 444.5,260.6 445.0,260.5 445.5,259.6 446.0,259.6 446.5,259.9 447.0,259.5 447.5,260.2 448.0,260.2 448.5,260.0 449.0,260.2 449.5,260.7 450.0,261.1 450.5,261.0 451.0,260.5 451.5,260.7 452.0,260.1 452.5,260.5 453.0,260.1 453.5,260.4 454.0,259.7 454.5,259.8 455.0,260.3 455.5,260.7 456.0,259.9 456.5,260.2 457.0,260.7 457.5,260.8 458.0,260.5 458.5,260.7 459.0,260.9 459.5,261.5 460.0,261.0 460.5,260.1 461.0,259.9 461.5,260.9 462.0,261.4 462.5,261.2 463.0,261.5 463.5,260.8 463.6,260.4 464.0,261.2 464.5,261.3 465.0,261.3 465.5,260.6 466.0,261.1 466.5,261.0 467.0,261.4 467.5,261.1 468.0,261.0 468.5,261.1 469.0,261.7 469.5,261.3 470.0,260.8 470.5,260.5 471.0,260.7 471.5,261.4 472.0,260.3 472.5,260.5 473.0,261.4 473.5,261.7 474.0,261.3 474.5,261.7 475.0,261.9 475.5,262.0 476.0,261.8 476.5,262.1 477.0,261.9 477.5,261.9 478.0,261.1 478.5,261.6 479.0,260.8 479.5,260.7 480.0,261.3 480.5,261.1 481.0,261.5 481.5,261.2 482.0,262.1 482.5,261.6 483.0,261.1 483.5,261.6 484.0,262.0 484.5,261.6 485.0,262.2 485.5,262.8 486.0,262.5 486.5,262.1 487.0,262.0 487.5,262.3 488.0,261.4 488.5,260.9 489.0,261.6 489.5,261.9 490.0,262.9 490.5,262.5 491.0,261.8 491.5,261.7 492.0,262.2 492.5,261.8 493.0,261.8 493.5,262.3 494.0,262.3 494.5,262.4 495.0,262.7 495.5,263.3 496.0,263.3 496.5,262.4 497.0,263.6 497.5,263.1 498.0,263.1 498.5,262.5 499.0,262.8 499.5,262.7 500.0,262.6 500.5,262.9 501.0,262.8 501.5,262.3 501.8,262.5 502.0,262.8 502.5,262.8 503.0,262.4 503.5,262.5 504.0,262.6 504.5,262.2 505.0,262.3 505.5,263.3 506.0,262.8 506.5,262.9 507.0,262.9 507.5,263.7 508.0,263.8 508.5,263.0 509.0,263.2 509.5,262.9 510.0,263.8 510.5,263.6 511.0,262.8 511.5,263.5 512.0,263.3 512.5,263.3 513.0,263.3 513.5,262.7 514.0,262.9 514.5,263.4 515.0,263.1 515.5,263.0 516.0,264.0 516.5,263.5 517.0,263.1 517.5,263.2 518.0,263.9 518.5,264.1 519.0,263.8 519.5,263.9 520.0,263.1 520.5,263.3 521.0,263.2 521.5,263.5 522.0,263.5 522.5,263.0 523.0,264.6 523.5,263.5 524.0,263.8 524.5,264.1 525.0,264.2 525.5,263.8 526.0,262.7 526.5,263.4 527.0,264.2 527.5,263.6 528.0,263.2 528.5,263.0 529.0,264.4 529.5,264.3 530.0,263.7 530.5,264.0 531.0,264.1 531.5,263.8 532.0,264.2 532.5,264.6 533.0,264.9 533.5,265.2 534.0,264.8 534.5,264.6 535.0,264.7 535.5,264.2 536.0,264.1 536.5,264.9 537.0,264.6 537.5,264.7 538.0,264.7 538.5,264.2 539.0,264.7"/>
<polyline fill="none" stroke="#000000" stroke-width="1.05" stroke-linejoin="round" points="48.0,306.0 48.5,306.2 49.0,306.8 49.5,306.2 50.0,305.1 50.5,305.5 51.0,305.5 51.5,305.4 52.0,304.8 52.5,305.3 53.0,305.5 53.5,305.9 54.0,305.6 54.5,305.3 55.0,304.6 55.5,305.4 56.0,304.2 56.5,305.0 57.0,304.5 57.5,304.2 58.0,304.2 58.5,304.3 59.0,304.8 59.5,304.9 60.0,305.2 60.5,304.1 61.0,304.3 61.5,304.2 62.0,304.4 62.5,303.4 63.0,304.0 63.5,304.1 64.0,303.5 64.5,304.3 65.0,304.2 65.5,304.5 66.0,304.4 66.5,303.6 67.0,303.4 67.5,303.6 68.0,304.0 68.5,303.9 69.0,303.1 69.5,303.1 70.0,303.0 70.5,303.0 71.0,303.0 71.5,303.3 72.0,303.9 72.5,303.1 73.0,302.9 73.5,303.2 73.6,302.7 74.0,302.6 74.5,302.8 75.0,302.9 75.5,302.1 76.0,302.8 76.5,302.3 77.0,302.2 77.5,302.4 78.0,302.4 78.5,302.5 79.0,302.0 79.5,301.8 80.0,301.6 80.5,301.3 81.0,301.7 81.5,300.8 82.0,300.6 82.5,301.6 83.0,300.8 83.5,300.2 84.0,301.1 84.5,300.4 85.0,300.5 85.5,299.9 86.0,299.8 86.5,299.0 87.0,298.8 87.5,299.2 88.0,299.4 88.5,299.9 89.0,300.2 89.5,298.9 90.0,299.2 90.5,298.8 91.0,298.7 91.5,298.0 92.0,297.9 92.5,298.3 93.0,298.2 93.5,298.6 94.0,298.6 94.5,299.0 95.0,298.5 95.5,298.5 96.0,298.8 96.5,298.5 97.0,298.1 97.5,297.9 98.0,297.9 98.5,298.3 99.0,298.1 99.2,297.9 99.5,297.9 100.0,297.3 100.5,297.3 101.0,296.8 101.5,297.6 102.0,297.3 102.5,297.1 103.0,297.0 103.5,296.8 104.0,296.5 104.5,297.0 105.0,296.5 105.5,296.2 106.0,296.4 106.5,295.8 107.0,296.8 107.5,296.3 108.0,296.3 108.5,297.2 109.0,297.0 109.5,295.9 110.0,295.6 110.5,295.8 111.0,295.8 111.5,294.9 112.0,294.9 112.5,295.2 113.0,294.8 113.5,294.9 114.0,294.7 114.5,294.1 115.0,293.7 115.5,293.0 116.0,293.8 116.5,294.4 117.0,293.6 117.5,294.3 118.0,294.1 118.5,293.6 119.0,293.5 119.5,293.4 120.0,293.1 120.5,293.2 121.0,293.4 121.5,293.7 122.0,293.6 122.5,293.0 123.0,293.3 123.5,292.7 124.0,292.8 124.5,293.0 124.8,292.9 125.0,292.7 125.5,292.6 126.0,292.2 126.5,292.1 127.0,292.3 127.5,292.6 128.0,292.3 128.5,292.8 129.0,291.7 129.5,290.2 130.0,291.2 130.5,292.1 131.0,291.4 131.5,290.8 132.0,290.7 132.5,291.5 133.0,291.5 133.5,291.2 134.0,291.2 134.5,291.3 135.0,290.7 135.5,289.8 136.0,290.3 136.5,290.2 137.0,290.1 137.5,290.2 138.0,289.7 138.5,288.5 139.0,290.1 139.5,290.1 140.0,289.6 140.5,289.6 141.0,289.5 141.5,289.0 142.0,289.4 142.5,289.1 143.0,288.9 143.5,288.5 144.0,288.7 144.5,289.4 145.0,289.3 145.5,288.9 146.0,288.4 146.5,287.9 147.0,288.6 147.5,288.8 148.0,287.6 148.5,288.1 149.0,286.9 149.5,287.3 150.0,287.5 150.5,286.6 151.0,286.5 151.5,287.2 152.0,287.4 152.5,286.9 153.0,287.2 153.5,286.5 154.0,287.2 154.5,286.6 155.0,286.5 155.5,286.5 156.0,286.4 156.5,287.0 157.0,286.9 157.5,286.0 158.0,285.5 158.5,284.8 159.0,284.7 159.5,284.9 160.0,284.8 160.5,284.6 161.0,284.5 161.5,284.5 162.0,283.8 162.5,283.8 163.0,284.5 163.5,284.3 164.0,283.6 164.5,283.9 165.0,282.9 165.5,282.7 166.0,282.2 166.5,282.9 167.0,282.6 167.5,282.8 168.0,282.6 168.5,282.1 169.0,282.1 169.5,282.3 170.0,281.6 170.5,281.2 171.0,281.2 171.5,281.5 172.0,281.6 172.5,281.7 173.0,280.8 173.5,280.8 174.0,280.2 174.5,280.5 175.0,280.3 175.5,280.5 176.0,279.9 176.5,279.3 177.0,279.3 177.5,279.0 178.0,278.3 178.5,277.7 179.0,277.1 179.5,278.1 180.0,277.0 180.5,276.5 181.0,275.2 181.5,274.6 182.0,274.6 182.5,274.3 183.0,274.1 183.5,273.2 184.0,273.3 184.5,273.2 184.9,272.1 185.0,272.3 185.5,271.6 186.0,271.8 186.5,271.8 187.0,272.0 187.5,271.0 188.0,271.0 188.5,271.0 189.0,270.1 189.5,270.2 190.0,269.9 190.5,269.7 191.0,270.2 191.5,270.3 191.8,270.7 192.0,270.3 192.5,269.9 193.0,268.9 193.5,268.5 194.0,268.3 194.5,267.5 195.0,268.4 195.5,267.5 196.0,267.1 196.5,267.1 197.0,267.4 197.5,267.4 198.0,266.5 198.5,266.4 198.8,266.0 199.0,265.6 199.5,265.8 200.0,265.6 200.5,265.0 201.0,265.5 201.5,264.6 202.0,264.8 202.5,264.3 203.0,264.1 203.5,264.2 204.0,264.5 204.5,263.7 205.0,264.0 205.1,264.6 205.5,263.4 206.0,262.8 206.5,262.4 207.0,261.3 207.2,261.2 207.5,259.8 208.0,258.0 208.5,255.9 208.6,255.6 209.0,252.4 209.3,250.0 209.5,247.4 210.0,241.0 210.5,234.6 211.0,228.2 211.3,224.4 211.5,222.9 212.0,219.0 212.5,215.2 213.0,211.4 213.5,212.6 214.0,213.6 214.4,214.0 214.5,215.9 215.0,225.2 215.4,232.6 215.5,233.8 216.0,239.9 216.5,246.0 217.0,252.1 217.5,252.5 218.0,254.3 218.5,255.3 219.0,255.9 219.4,256.5 219.5,256.3 220.0,257.5 220.5,257.7 221.0,258.1 221.5,258.9 222.0,258.8 222.5,259.2 223.0,259.5 223.5,260.1 224.0,261.6 224.3,261.1 224.5,261.1 225.0,261.4 225.5,260.3 226.0,261.4 226.5,261.8 227.0,261.7 227.5,262.2 228.0,261.7 228.5,262.6 229.0,263.1 229.2,261.9 229.5,261.9 230.0,262.6 230.5,262.6 231.0,262.5 231.5,262.8 232.0,262.7 232.5,262.2 233.0,262.3 233.5,261.9 234.0,261.5 234.1,261.7 234.5,262.9 235.0,262.7 235.5,263.1 236.0,261.7 236.5,261.7 237.0,261.9 237.5,261.7 238.0,261.7 238.5,261.3 239.0,260.6 239.5,259.6 240.0,260.0 240.5,260.8 241.0,260.4 241.5,260.1 242.0,259.0 242.5,258.8 243.0,258.4 243.5,256.8 244.0,254.9 244.5,253.0 244.7,252.5 245.0,251.3 245.5,250.5 245.8,249.7 246.0,250.9 246.5,253.6 247.0,256.4 247.1,257.0 247.5,259.9 248.0,263.4 248.5,267.0 248.7,268.4 249.0,269.7 249.5,271.9 249.7,272.9 250.0,273.1 250.5,273.8 251.0,273.9 251.5,275.0 252.0,275.9 252.5,275.5 253.0,277.0 253.5,277.9 254.0,277.3 254.3,277.8 254.5,277.3 255.0,278.1 255.5,278.2 256.0,278.6 256.5,278.3 257.0,278.6 257.5,278.9 258.0,279.1 258.5,279.3 259.0,279.7 259.5,279.6 260.0,280.3 260.5,280.6 261.0,279.9 261.5,280.8 261.8,280.8 262.0,280.5 262.5,280.6 263.0,280.9 263.5,281.2 264.0,281.5 264.5,281.2 265.0,282.1 265.5,281.9 266.0,282.6 266.5,282.9 267.0,282.3 267.5,283.2 268.0,283.8 268.5,282.9 269.0,283.2 269.5,283.1 270.0,283.2 270.5,283.0 271.0,282.9 271.5,283.5 272.0,283.7 272.5,283.5 273.0,284.2 273.5,284.2 274.0,283.8 274.5,283.6 275.0,284.5 275.5,284.3 276.0,283.0 276.5,283.1 277.0,283.6 277.5,284.2 278.0,284.4 278.5,283.8 279.0,284.1 279.5,284.3 280.0,283.6 280.5,284.2 281.0,283.9 281.5,284.0 282.0,283.8 282.5,283.3 282.7,283.4 283.0,283.8 283.5,284.0 284.0,284.3 284.5,284.9 285.0,284.7 285.5,284.5 286.0,284.9 286.5,285.4 287.0,285.8 287.5,286.5 288.0,286.6 288.5,286.8 289.0,286.7 289.5,286.5 290.0,287.0 290.5,286.8 291.0,286.9 291.5,286.5 292.0,287.0 292.5,287.1 293.0,287.7 293.5,288.6 294.0,289.0 294.5,288.6 295.0,288.3 295.4,288.6 295.5,288.6 296.0,288.2 296.5,288.4 297.0,288.3 297.5,288.4 298.0,289.1 298.5,288.4 299.0,288.4 299.5,288.8 300.0,288.2 300.5,288.0 301.0,288.2 301.5,288.8 302.0,288.9 302.5,288.8 303.0,288.5 303.5,288.4 304.0,288.9 304.5,288.2 305.0,288.4 305.5,288.2 306.0,288.4 306.5,288.7 307.0,289.0 307.5,287.7 308.0,288.9 308.5,288.4 309.0,288.6 309.5,288.7 310.0,288.2 310.5,288.4 311.0,288.7 311.5,288.3 312.0,288.1 312.5,288.4 313.0,288.4 313.3,287.9 313.5,289.0 314.0,288.7 314.5,287.7 315.0,288.4 315.5,289.8 316.0,290.0 316.5,289.4 317.0,288.6 317.5,289.4 318.0,290.1 318.5,289.8 319.0,289.5 319.5,289.4 320.0,289.9 320.5,289.8 320.9,290.1 321.0,290.3 321.5,290.7 322.0,290.3 322.5,290.3 323.0,289.7 323.5,290.9 324.0,291.1 324.5,290.5 325.0,289.6 325.5,290.2 326.0,291.0 326.5,291.9 327.0,291.5 327.5,291.6 328.0,291.8 328.5,291.9 329.0,291.1 329.5,291.1 330.0,291.2 330.5,291.6 331.0,291.7 331.5,291.9 332.0,291.6 332.5,291.8 333.0,291.9 333.5,293.0 333.6,292.5 334.0,293.5 334.5,293.2 335.0,292.3 335.5,292.9 336.0,292.9 336.5,292.4 337.0,293.2 337.5,293.2 338.0,293.2 338.5,292.8 339.0,293.1 339.5,293.2 340.0,293.1 340.5,293.0 341.0,293.0 341.5,292.8 342.0,293.0 342.5,292.3 343.0,293.7 343.5,293.7 344.0,293.7 344.5,293.8 345.0,293.3 345.5,294.3 346.0,293.6 346.3,294.0 346.5,294.1 347.0,294.4 347.5,293.7 348.0,293.3 348.5,293.6 349.0,292.7 349.5,293.3 350.0,293.5 350.5,294.2 351.0,293.7 351.5,293.5 352.0,293.2 352.5,293.2 353.0,293.4 353.5,293.7 354.0,293.1 354.5,293.3 355.0,293.0 355.5,293.5 356.0,293.5 356.5,293.1 357.0,293.4 357.5,293.9 358.0,294.3 358.5,294.4 359.0,293.9 359.5,293.3 360.0,293.1 360.5,294.1 361.0,294.5 361.5,294.1 362.0,294.3 362.5,293.6 363.0,293.7 363.5,294.3 364.0,293.6 364.5,294.1 365.0,294.2 365.5,294.3 366.0,294.9 366.5,293.9 367.0,293.8 367.5,293.2 368.0,293.5 368.5,293.9 369.0,294.1 369.5,294.2 370.0,294.2 370.5,293.7 371.0,293.3 371.5,294.1 371.8,294.2 372.0,293.7 372.5,293.9 373.0,294.9 373.5,294.9 374.0,295.0 374.5,294.8 375.0,294.6 375.5,294.3 376.0,294.6 376.5,294.3 377.0,294.2 377.5,294.5 378.0,294.6 378.5,294.8 379.0,294.5 379.5,295.5 380.0,294.4 380.5,294.5 381.0,294.9 381.5,294.4 382.0,294.4 382.5,294.4 383.0,293.4 383.5,294.0 384.0,294.2 384.5,294.5 385.0,295.0 385.5,295.3 386.0,295.7 386.5,295.7 387.0,295.4 387.5,295.0 388.0,295.2 388.5,294.5 389.0,294.9 389.5,295.5 390.0,295.2 390.5,294.4 391.0,294.6 391.5,295.5 392.0,295.6 392.5,295.5 393.0,294.5 393.5,294.5 394.0,295.0 394.5,294.8 395.0,295.0 395.5,295.2 396.0,295.4 396.5,295.3 397.0,295.6 397.5,295.7 398.0,295.4 398.5,295.1 399.0,296.1 399.5,296.1 400.0,296.0 400.5,295.7 401.0,295.1 401.5,295.7 402.0,295.4 402.5,295.3 403.0,296.1 403.5,295.6 404.0,295.6 404.5,296.1 405.0,296.1 405.5,294.9 406.0,295.0 406.5,295.6 407.0,294.9 407.5,293.8 408.0,295.0 408.5,295.5 409.0,295.6 409.5,295.4 410.0,295.0 410.5,295.3 411.0,295.1 411.5,294.8 412.0,295.2 412.5,295.2 413.0,294.8 413.5,295.5 414.0,295.5 414.5,295.1 415.0,293.8 415.5,294.7 416.0,294.8 416.5,294.4 417.0,294.8 417.5,294.2 418.0,295.1 418.5,295.0 419.0,294.6 419.5,295.3 420.0,295.1 420.5,294.7 421.0,294.2 421.5,294.9 422.0,295.3 422.5,295.1 423.0,294.2 423.5,295.3 424.0,295.6 424.5,295.1 425.0,294.4 425.5,293.9 426.0,294.0 426.5,294.2 427.0,294.6 427.5,294.5 428.0,293.9 428.5,293.4 429.0,293.7 429.5,293.7 430.0,294.5 430.5,293.9 431.0,294.4 431.5,294.5 432.0,294.0 432.5,294.6 433.0,294.2 433.5,293.8 434.0,293.8 434.5,294.2 435.0,294.3 435.5,293.4 435.6,294.1 436.0,294.1 436.5,293.9 437.0,294.2 437.5,294.3 438.0,294.3 438.5,294.7 439.0,294.4 439.5,295.3 440.0,295.0 440.5,294.0 441.0,293.5 441.5,294.1 442.0,294.3 442.5,294.7 443.0,294.9 443.5,295.2 444.0,294.4 444.5,294.4 445.0,294.0 445.5,294.2 446.0,294.8 446.5,294.3 447.0,294.2 447.5,294.3 448.0,294.7 448.5,294.9 449.0,294.6 449.5,294.3 450.0,294.8 450.5,294.6 451.0,294.9 451.5,295.2 452.0,295.0 452.5,294.3 453.0,295.8 453.5,295.9 454.0,296.4 454.5,296.4 455.0,294.9 455.5,294.8 456.0,295.2 456.5,295.6 457.0,295.0 457.5,295.0 458.0,295.6 458.5,295.0 459.0,295.5 459.5,295.8 460.0,295.5 460.5,295.8 461.0,295.2 461.5,294.7 462.0,295.0 462.5,295.2 463.0,295.2 463.5,295.4 463.6,295.5 464.0,295.6 464.5,295.6 465.0,295.3 465.5,295.3 466.0,295.4 466.5,295.5 467.0,296.0 467.5,295.0 468.0,295.6 468.5,295.0 469.0,295.4 469.5,296.1 470.0,295.9 470.5,296.4 471.0,295.6 471.5,295.6 472.0,295.7 472.5,295.8 473.0,295.8 473.5,295.7 474.0,296.2 474.5,296.4 475.0,296.0 475.5,295.9 476.0,295.8 476.5,295.4 477.0,295.2 477.5,295.5 478.0,296.0 478.5,295.5 479.0,296.5 479.5,296.2 480.0,295.9 480.5,296.2 481.0,296.7 481.5,296.6 482.0,296.5 482.5,297.1 483.0,297.2 483.5,295.9 484.0,296.5 484.5,295.8 485.0,295.5 485.5,296.0 486.0,296.6 486.5,296.3 487.0,296.3 487.5,297.1 488.0,296.8 488.5,296.7 489.0,297.5 489.5,297.1 490.0,296.5 490.5,296.4 491.0,296.7 491.5,297.2 492.0,297.5 492.5,297.6 493.0,297.3 493.5,296.8 494.0,297.5 494.5,297.2 495.0,296.7 495.5,296.7 496.0,297.2 496.5,297.5 497.0,297.4 497.5,296.9 498.0,297.8 498.5,296.6 499.0,297.3 499.5,297.9 500.0,297.7 500.5,297.0 501.0,297.5 501.5,297.9 501.8,297.6 502.0,296.9 502.5,297.7 503.0,296.8 503.5,297.1 504.0,296.8 504.5,296.9 505.0,297.1 505.5,297.5 506.0,296.9 506.5,297.6 507.0,298.1 507.5,297.7 508.0,297.9 508.5,297.8 509.0,297.4 509.5,297.4 510.0,297.6 510.5,298.1 511.0,298.7 511.5,298.4 512.0,297.5 512.5,297.3 513.0,297.1 513.5,296.8 514.0,298.3 514.5,298.0 515.0,297.0 515.5,297.9 516.0,298.9 516.5,298.3 517.0,298.2 517.5,297.9 518.0,297.5 518.5,297.3 519.0,297.5 519.5,298.0 520.0,298.0 520.5,298.4 521.0,298.9 521.5,298.5 522.0,298.3 522.5,297.7 523.0,297.6 523.5,298.8 524.0,298.5 524.5,298.5 525.0,297.8 525.5,297.5 526.0,298.2 526.5,297.3 527.0,297.9 527.5,298.0 528.0,298.4 528.5,298.7 529.0,298.4 529.5,297.5 530.0,298.1 530.5,297.5 531.0,298.1 531.5,297.8 532.0,297.6 532.5,297.8 533.0,297.7 533.5,298.3 534.0,299.0 534.5,299.1 535.0,298.9 535.5,299.3 536.0,299.2 536.5,299.8 537.0,299.1 537.5,298.6 538.0,298.6 538.5,298.4 539.0,298.5"/>
<polyline fill="none" stroke="#00ff00" stroke-width="1.05" stroke-linejoin="round" points="48.0,346.8 48.5,346.5 49.0,347.0 49.5,347.4 50.0,347.7 50.5,347.3 51.0,346.8 51.5,346.7 52.0,347.3 52.5,347.8 53.0,347.1 53.5,346.3 54.0,346.5 54.5,347.4 55.0,346.8 55.5,345.9 56.0,346.4 56.5,346.2 57.0,346.2 57.5,346.4 58.0,346.3 58.5,346.8 59.0,346.5 59.5,346.3 60.0,346.7 60.5,346.6 61.0,345.6 61.5,345.9 62.0,345.8 62.5,346.1 63.0,345.8 63.5,346.1 64.0,346.2 64.5,346.0 65.0,345.8 65.5,345.9 66.0,345.6 66.5,345.6 67.0,346.2 67.5,345.9 68.0,346.7 68.5,346.5 69.0,345.5 69.5,346.2 70.0,345.9 70.5,346.1 71.0,346.0 71.5,345.2 72.0,345.6 72.5,345.9 73.0,346.3 73.5,345.6 73.6,345.9 74.0,345.3 74.5,345.4 75.0,345.4 75.5,346.2 76.0,346.4 76.5,346.8 77.0,346.2 77.5,346.0 78.0,345.8 78.5,345.3 79.0,345.5 79.5,346.0 80.0,345.4 80.5,345.3 81.0,345.3 81.5,345.5 82.0,345.1 82.5,345.1 83.0,345.2 83.5,345.0 84.0,344.6 84.5,345.0 85.0,344.2 85.5,344.0 86.0,344.1 86.5,345.0 87.0,344.6 87.5,344.1 88.0,344.1 88.5,344.6 89.0,344.1 89.5,344.1 90.0,344.7 90.5,344.2 91.0,344.5 91.5,344.5 92.0,344.5 92.5,344.8 93.0,345.4 93.5,344.6 94.0,344.0 94.5,343.8 95.0,344.3 95.5,344.3 96.0,344.4 96.5,344.1 97.0,344.0 97.5,343.7 98.0,343.8 98.5,344.1 99.0,343.9 99.2,344.2 99.5,344.9 100.0,344.3 100.5,343.6 101.0,344.6 101.5,344.2 102.0,343.6 102.5,344.1 103.0,343.9 103.5,343.5 104.0,343.4 104.5,343.4 105.0,343.8 105.5,344.1 106.0,343.6 106.5,343.9 107.0,344.2 107.5,343.1 108.0,343.4 108.5,343.2 109.0,342.8 109.5,342.7 110.0,343.2 110.5,343.5 111.0,343.1 111.5,343.4 112.0,343.6 112.5,343.4 113.0,343.4 113.5,343.2 114.0,343.3 114.5,343.6 115.0,343.1 115.5,342.9 116.0,342.9 116.5,342.4 117.0,342.5 117.5,343.0 118.0,343.2 118.5,343.4 119.0,342.8 119.5,342.1 120.0,343.2 120.5,342.9 121.0,342.1 121.5,342.8 122.0,342.3 122.5,341.5 123.0,341.8 123.5,342.1 124.0,342.9 124.5,342.2 124.8,342.3 125.0,342.3 125.5,342.2 126.0,342.0 126.5,342.5 127.0,342.9 127.5,342.6 128.0,341.9 128.5,341.8 129.0,342.2 129.5,342.0 130.0,341.8 130.5,341.5 131.0,342.8 131.5,342.5 132.0,341.6 132.5,342.1 133.0,342.1 133.5,340.7 134.0,341.1 134.5,341.6 135.0,342.0 135.5,341.7 136.0,341.6 136.5,342.0 137.0,342.9 137.5,342.8 138.0,341.5 138.5,341.3 139.0,342.5 139.5,341.4 140.0,341.3 140.5,341.6 141.0,341.8 141.5,342.0 142.0,341.7 142.5,341.4 143.0,341.8 143.5,341.8 144.0,342.1 144.5,341.3 145.0,340.5 145.5,340.7 146.0,341.6 146.5,340.7 147.0,340.0 147.5,340.6 148.0,341.1 148.5,341.5 149.0,340.8 149.5,341.4 150.0,341.4 150.5,340.7 151.0,340.9 151.5,341.6 152.0,341.6 152.5,341.2 153.0,340.8 153.5,341.0 154.0,340.4 154.5,340.1 155.0,339.8 155.5,340.1 156.0,340.3 156.5,341.1 157.0,340.0 157.5,340.2 158.0,340.1 158.5,339.5 159.0,339.5 159.5,338.3 160.0,338.9 160.5,338.9 160.9,337.7 161.0,338.1 161.5,339.0 162.0,338.4 162.5,337.8 163.0,337.8 163.5,337.7 164.0,338.2 164.5,338.0 165.0,337.5 165.5,337.0 166.0,337.2 166.5,337.5 167.0,337.1 167.5,336.9 168.0,336.4 168.5,335.7 169.0,335.8 169.5,336.1 170.0,335.8 170.5,335.1 171.0,334.7 171.5,335.1 171.8,335.0 172.0,334.8 172.5,334.8 173.0,334.9 173.5,335.0 174.0,335.1 174.5,335.1 175.0,335.1 175.5,334.8 176.0,334.2 176.5,334.4 177.0,334.6 177.3,334.5 177.5,334.7 178.0,334.8 178.5,333.9 179.0,333.3 179.5,334.1 180.0,333.7 180.5,333.5 181.0,332.8 181.5,333.4 182.0,333.0 182.5,332.4 182.7,332.1 183.0,332.1 183.5,331.6 184.0,331.2 184.5,330.5 185.0,330.9 185.5,330.3 186.0,329.9 186.5,329.2 187.0,328.1 187.1,328.9 187.5,328.7 188.0,328.6 188.5,328.7 189.0,328.6 189.5,329.1 190.0,328.6 190.3,328.4 190.5,328.6 191.0,329.3 191.5,329.9 192.0,329.4 192.5,329.4 193.0,330.4 193.5,330.2 193.6,330.8 194.0,330.5 194.5,330.3 195.0,330.4 195.5,330.9 196.0,331.2 196.5,330.9 197.0,331.4 197.5,331.8 198.0,331.0 198.5,330.1 199.0,329.7 199.5,329.4 200.0,329.5 200.5,329.2 201.0,328.8 201.3,329.3 201.5,328.1 202.0,328.3 202.5,329.5 203.0,329.1 203.5,328.5 204.0,328.3 204.5,328.5 205.0,327.3 205.5,326.2 206.0,325.0 206.5,324.6 207.0,323.8 207.5,323.1 207.8,323.0 208.0,322.1 208.5,319.6 209.0,317.2 209.5,314.5 209.8,313.0 210.0,310.3 210.5,303.5 211.0,296.7 211.5,288.4 212.0,280.0 212.5,265.4 213.0,250.8 213.2,245.0 213.5,234.8 214.0,217.8 214.2,211.0 214.5,220.3 215.0,235.7 215.3,245.0 215.5,252.8 216.0,272.2 216.2,280.0 216.5,285.7 217.0,295.2 217.3,300.9 217.5,303.1 218.0,308.6 218.5,314.1 218.7,316.3 219.0,316.9 219.5,317.8 220.0,319.3 220.5,321.0 220.8,321.7 221.0,321.6 221.5,321.1 222.0,321.7 222.5,323.6 223.0,324.5 223.5,325.4 224.0,325.8 224.3,326.0 224.5,325.7 225.0,325.5 225.5,326.4 226.0,326.3 226.5,326.6 227.0,326.8 227.5,326.9 228.0,327.2 228.5,326.6 229.0,326.5 229.5,326.2 230.0,326.4 230.5,327.0 231.0,326.4 231.5,326.7 232.0,326.6 232.5,326.5 233.0,326.4 233.5,325.6 233.9,326.1 234.0,326.5 234.5,324.8 235.0,323.9 235.5,322.9 236.0,322.3 236.5,321.2 237.0,321.2 237.5,319.7 237.6,319.4 238.0,318.1 238.5,315.8 239.0,313.4 239.5,311.1 240.0,308.8 240.5,306.5 241.0,304.4 241.3,303.0 241.5,303.0 242.0,302.0 242.5,301.2 243.0,300.7 243.5,300.7 244.0,300.2 244.5,298.8 245.0,298.1 245.5,297.6 246.0,296.2 246.5,294.8 246.9,293.4 247.0,292.9 247.5,290.2 248.0,287.5 248.5,284.7 248.8,283.2 249.0,284.0 249.5,285.7 250.0,287.2 250.5,289.2 250.6,289.7 251.0,295.2 251.5,302.1 252.0,308.9 252.5,315.8 253.0,318.3 253.5,320.8 254.0,323.4 254.5,325.8 255.0,328.2 255.3,329.9 255.5,330.3 256.0,330.4 256.5,329.7 257.0,330.3 257.5,331.1 258.0,331.6 258.5,331.5 259.0,331.9 259.5,331.6 260.0,332.1 260.5,332.2 261.0,333.0 261.5,333.0 261.8,333.2 262.0,333.5 262.5,334.0 263.0,333.2 263.5,333.2 264.0,333.9 264.5,333.6 265.0,334.3 265.5,333.9 266.0,333.6 266.5,333.9 267.0,334.6 267.5,334.2 268.0,334.2 268.5,333.9 269.0,333.3 269.5,333.7 270.0,334.8 270.5,334.9 271.0,334.7 271.5,334.7 272.0,334.4 272.5,334.4 272.9,334.2 273.0,334.4 273.5,334.1 274.0,334.2 274.5,334.5 275.0,334.3 275.5,334.7 276.0,334.8 276.5,334.8 277.0,334.8 277.5,333.8 278.0,333.6 278.5,334.5 279.0,334.9 279.5,335.4 280.0,334.9 280.2,334.5 280.5,333.8 281.0,334.2 281.5,333.9 282.0,333.2 282.5,332.9 283.0,333.0 283.5,332.5 284.0,331.3 284.5,332.1 285.0,332.1 285.5,331.9 286.0,331.9 286.5,331.4 287.0,330.7 287.5,331.0 288.0,330.7 288.3,330.2 288.5,331.0 289.0,332.0 289.5,331.0 290.0,331.0 290.5,331.7 291.0,333.5 291.5,333.4 292.0,333.6 292.5,333.7 293.0,333.8 293.5,333.9 294.0,335.2 294.2,335.4 294.5,334.7 295.0,335.1 295.5,335.5 296.0,336.1 296.5,336.5 297.0,337.1 297.5,337.3 298.0,337.5 298.5,337.5 299.0,336.7 299.5,337.0 300.0,337.9 300.5,337.8 301.0,337.2 301.5,336.1 302.0,336.1 302.5,336.9 303.0,336.7 303.5,336.2 304.0,335.8 304.5,335.1 305.0,335.7 305.5,336.1 306.0,336.0 306.5,335.3 307.0,334.7 307.5,334.3 308.0,335.0 308.2,335.2 308.5,334.2 309.0,334.3 309.5,334.0 310.0,333.4 310.5,332.4 311.0,333.2 311.5,333.3 312.0,332.4 312.5,332.0 313.0,331.3 313.5,332.6 314.0,332.5 314.5,332.0 315.0,331.6 315.5,331.4 315.8,331.5 316.0,331.7 316.5,332.1 317.0,332.6 317.5,333.3 318.0,334.1 318.5,333.3 319.0,334.0 319.5,334.1 320.0,334.0 320.5,334.2 320.9,335.4 321.0,335.1 321.5,335.3 322.0,335.6 322.5,335.1 323.0,335.5 323.5,335.6 324.0,336.0 324.5,336.0 325.0,335.4 325.5,335.9 326.0,335.6 326.5,335.8 327.0,335.8 327.5,335.9 328.0,335.3 328.5,335.9 329.0,336.5 329.5,336.3 330.0,337.1 330.5,336.4 331.0,336.6 331.5,336.6 332.0,336.7 332.5,336.8 333.0,337.2 333.5,337.7 334.0,337.8 334.5,338.7 335.0,339.0 335.5,338.3 336.0,339.2 336.5,339.3 337.0,339.5 337.4,340.6 337.5,340.3 338.0,339.9 338.5,339.6 339.0,339.0 339.5,340.0 340.0,339.7 340.5,340.0 341.0,340.3 341.5,340.7 342.0,341.1 342.5,340.7 343.0,340.6 343.5,340.0 344.0,340.2 344.5,340.3 345.0,339.7 345.5,340.6 346.0,339.7 346.3,339.5 346.5,340.7 347.0,340.9 347.5,339.9 348.0,339.8 348.5,341.0 349.0,339.9 349.5,338.9 350.0,339.6 350.5,340.7 351.0,340.4 351.5,340.2 352.0,340.4 352.5,340.2 353.0,339.6 353.5,339.2 354.0,339.8 354.5,339.3 355.0,339.7 355.5,340.4 356.0,340.0 356.5,339.5 357.0,339.6 357.5,339.9 358.0,339.9 358.5,339.3 359.0,339.8 359.5,340.5 360.0,340.2 360.5,339.5 361.0,339.4 361.5,338.9 362.0,339.6 362.5,340.5 363.0,340.0 363.5,339.6 364.0,339.7 364.5,339.9 365.0,340.0 365.5,339.9 366.0,339.9 366.5,340.6 367.0,341.0 367.5,340.2 368.0,340.2 368.5,340.9 369.0,340.1 369.5,340.3 370.0,340.6 370.5,340.8 371.0,340.6 371.5,340.5 371.8,340.8 372.0,340.2 372.5,339.8 373.0,339.8 373.5,340.8 374.0,340.0 374.5,340.7 375.0,341.1 375.5,340.9 376.0,340.6 376.5,340.4 377.0,340.6 377.5,340.2 378.0,340.2 378.5,340.9 379.0,340.6 379.5,341.5 380.0,341.1 380.5,340.6 381.0,340.9 381.5,341.1 382.0,340.0 382.5,339.9 383.0,340.1 383.5,340.5 384.0,340.8 384.5,340.6 385.0,340.4 385.5,340.5 386.0,341.2 386.5,341.3 387.0,340.7 387.5,340.3 388.0,341.1 388.5,341.0 389.0,341.2 389.5,341.7 390.0,341.4 390.5,340.5 391.0,340.6 391.5,341.4 392.0,341.1 392.5,341.1 393.0,340.6 393.5,340.2 394.0,340.8 394.5,341.4 395.0,341.0 395.5,340.4 396.0,340.6 396.5,340.7 397.0,341.1 397.5,341.7 398.0,341.9 398.5,341.1 399.0,340.6 399.5,340.8 400.0,340.7 400.5,340.6 401.0,340.7 401.5,340.6 402.0,340.3 402.5,340.8 403.0,340.5 403.5,340.3 404.0,340.7 404.5,340.7 405.0,341.3 405.5,341.0 406.0,340.7 406.5,340.2 407.0,340.5 407.5,340.9 408.0,340.5 408.5,340.6 409.0,339.6 409.5,340.3 410.0,340.7 410.5,340.4 411.0,340.3 411.5,340.6 412.0,339.9 412.5,339.7 413.0,340.3 413.5,341.0 414.0,340.7 414.5,340.2 415.0,340.3 415.5,340.3 416.0,339.4 416.5,338.7 417.0,339.3 417.5,339.2 418.0,339.4 418.5,339.2 419.0,339.4 419.5,339.9 420.0,339.8 420.4,339.7 420.5,340.1 421.0,339.4 421.5,339.5 422.0,339.9 422.5,339.1 423.0,338.9 423.5,340.1 424.0,340.0 424.5,340.1 425.0,340.3 425.5,340.2 426.0,339.6 426.5,339.4 427.0,339.1 427.5,339.4 428.0,339.4 428.5,339.2 429.0,339.6 429.5,340.3 430.0,338.8 430.5,339.3 431.0,339.6 431.5,339.4 432.0,339.0 432.5,339.6 433.0,339.4 433.5,339.1 434.0,338.9 434.5,339.1 435.0,339.4 435.5,339.5 436.0,339.7 436.5,338.5 437.0,338.6 437.5,338.3 438.0,338.5 438.2,338.3 438.5,337.8 439.0,337.5 439.5,337.9 440.0,338.5 440.5,339.2 441.0,338.7 441.5,338.0 442.0,338.3 442.5,338.7 443.0,338.6 443.5,338.7 444.0,339.0 444.5,338.8 445.0,338.2 445.5,337.8 446.0,338.3 446.5,338.0 447.0,338.5 447.5,338.7 448.0,338.3 448.5,338.7 449.0,338.9 449.5,340.0 450.0,339.3 450.5,338.6 451.0,339.4 451.5,339.5 452.0,339.2 452.5,339.2 453.0,339.6 453.5,339.8 454.0,339.5 454.5,339.0 455.0,339.0 455.5,338.6 456.0,338.7 456.5,339.1 457.0,339.0 457.5,339.4 458.0,340.5 458.5,339.9 459.0,339.0 459.5,338.4 460.0,338.8 460.5,338.5 461.0,338.3 461.5,339.4 462.0,339.4 462.5,339.9 463.0,340.8 463.5,339.9 463.6,339.7 464.0,339.8 464.5,339.7 465.0,339.5 465.5,339.9 466.0,340.5 466.5,339.9 467.0,339.3 467.5,339.4 468.0,339.6 468.5,340.1 469.0,340.4 469.5,340.6 470.0,340.6 470.5,340.1 471.0,340.6 471.5,340.5 472.0,340.4 472.5,339.7 473.0,340.5 473.5,339.6 474.0,339.6 474.5,340.5 475.0,340.6 475.5,341.1 476.0,340.6 476.5,340.2 477.0,340.6 477.5,340.7 478.0,341.6 478.5,341.7 479.0,341.3 479.5,340.7 480.0,341.0 480.5,341.4 481.0,340.6 481.5,340.6 482.0,341.3 482.5,341.3 483.0,341.1 483.5,340.8 484.0,340.3 484.5,341.4 485.0,341.0 485.5,340.5 486.0,340.5 486.5,340.9 487.0,342.0 487.5,341.6 488.0,341.0 488.5,342.2 489.0,342.0 489.1,340.9 489.5,340.5 490.0,341.8 490.5,341.6 491.0,341.5 491.5,341.5 492.0,342.3 492.5,342.6 493.0,342.2 493.5,341.7 494.0,341.8 494.5,341.7 495.0,340.9 495.5,341.8 496.0,341.6 496.5,341.7 497.0,341.8 497.5,342.3 498.0,342.5 498.5,342.8 499.0,341.8 499.5,341.5 500.0,341.7 500.5,341.5 501.0,342.0 501.5,341.7 502.0,341.9 502.5,342.3 503.0,342.4 503.5,342.0 504.0,342.5 504.5,342.5 505.0,341.4 505.5,341.9 506.0,341.8 506.5,341.6 507.0,341.5 507.5,341.8 508.0,342.2 508.5,342.2 509.0,342.7 509.5,342.5 510.0,341.7 510.5,341.8 511.0,342.3 511.5,342.0 512.0,342.2 512.5,342.4 513.0,342.6 513.5,342.5 514.0,342.7 514.5,342.1 515.0,342.3 515.5,341.9 516.0,342.1 516.5,342.2 517.0,341.7 517.5,341.2 518.0,342.5 518.5,342.6 519.0,342.4 519.5,342.1 520.0,342.1 520.5,342.4 521.0,342.4 521.5,342.6 522.0,342.4 522.5,342.0 523.0,342.3 523.5,342.0 524.0,342.0 524.5,341.6 525.0,342.0 525.5,342.4 526.0,342.2 526.5,342.3 527.0,342.6 527.5,342.6 528.0,343.1 528.5,342.4 529.0,342.2 529.5,342.2 530.0,341.5 530.5,341.7 531.0,342.5 531.5,342.5 532.0,343.1 532.5,342.6 533.0,342.5 533.5,343.0 534.0,342.8 534.5,343.1 535.0,342.2 535.5,342.6 536.0,342.9 536.5,343.0 537.0,343.3 537.5,343.3 538.0,342.9 538.5,342.7 539.0,343.3"/>
<g stroke="#000" fill="none">
<line x1="48.1" y1="3" x2="48.1" y2="379.8" stroke-width="2.1"/>
<line x1="47" y1="4.3" x2="540.2" y2="4.3" stroke-width="2"/>
<line x1="539.4" y1="3" x2="539.4" y2="382.8" stroke-width="1.7"/>
<line x1="47" y1="375.0" x2="540.2" y2="375.0" stroke-width="2.1"/>
</g>
<line x1="102.60" y1="375" x2="102.60" y2="383" stroke="#000" stroke-width="2"/><line x1="157.20" y1="375" x2="157.20" y2="379.5" stroke="#000" stroke-width="2"/><line x1="211.80" y1="375" x2="211.80" y2="383" stroke="#000" stroke-width="2"/><line x1="266.40" y1="375" x2="266.40" y2="379.5" stroke="#000" stroke-width="2"/><line x1="321.00" y1="375" x2="321.00" y2="383" stroke="#000" stroke-width="2"/><line x1="375.60" y1="375" x2="375.60" y2="379.5" stroke="#000" stroke-width="2"/><line x1="430.20" y1="375" x2="430.20" y2="383" stroke="#000" stroke-width="2"/><line x1="484.80" y1="375" x2="484.80" y2="379.5" stroke="#000" stroke-width="2"/>
<text transform="translate(102.60,398.5) scale(1.08,1)" font-size="14.2" text-anchor="middle" stroke="#000" stroke-width="0.25">10</text><text transform="translate(211.80,398.5) scale(1.08,1)" font-size="14.2" text-anchor="middle" stroke="#000" stroke-width="0.25">20</text><text transform="translate(321.00,398.5) scale(1.08,1)" font-size="14.2" text-anchor="middle" stroke="#000" stroke-width="0.25">30</text><text transform="translate(430.20,398.5) scale(1.08,1)" font-size="14.2" text-anchor="middle" stroke="#000" stroke-width="0.25">40</text><text transform="translate(539.40,398.5) scale(1.08,1)" font-size="14.2" text-anchor="middle" stroke="#000" stroke-width="0.25">50</text>
<text transform="translate(293.3,427.2) scale(1.0,1)" font-size="18" text-anchor="middle" stroke="#000" stroke-width="0.3">2 è</text>
<text transform="translate(15.0,246.9) scale(1.04,1) rotate(-90)" font-size="18.1" stroke="#000" stroke-width="0.3">intensity (a.u.)</text>
<g font-size="17.6" stroke="#000" stroke-width="0.35">
<text transform="translate(412.3,131.0) scale(1.034,1)">PPAd</text>
<text transform="translate(346.1,175.3) scale(1.034,1)">P(ESu-co-PAd) 90/10</text>
<text transform="translate(348.5,236.8) scale(1.034,1)">P(ESu-co-PAd) 80/20</text>
<text transform="translate(348.5,284.8) scale(1.034,1)">P(ESu-co-PAd) 70/30</text>
<text transform="translate(413.5,334.8) scale(1.034,1)">PESu</text>
</g>
</svg>
</body></html>
